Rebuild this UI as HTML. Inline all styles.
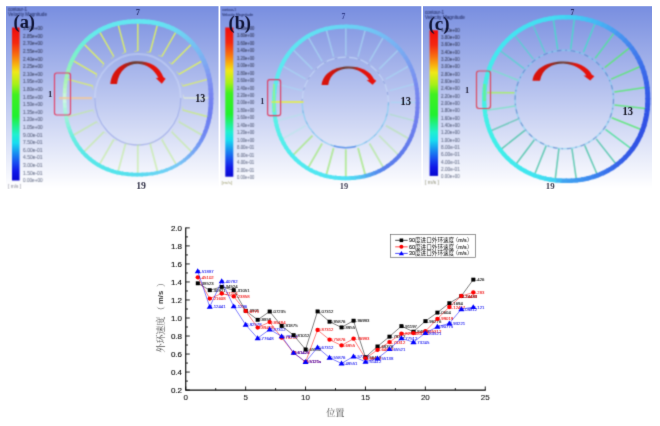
<!DOCTYPE html>
<html><head><meta charset="utf-8"><title>figure</title>
<style>
html,body{margin:0;padding:0;background:#fff;}
body{width:660px;height:426px;overflow:hidden;font-family:"Liberation Sans",sans-serif;}
svg{display:block}
text{font-family:"Liberation Sans",sans-serif}
.serif{font-family:"Liberation Serif",serif;font-weight:bold}
.cjk{font-family:"Liberation Sans","Noto Sans CJK SC",sans-serif}
.cjkserif{font-family:"Liberation Serif","Noto Serif CJK SC",serif}
</style></head><body>
<svg width="660" height="426" viewBox="0 0 660 426">
<defs>
<linearGradient id="bg" x1="0" y1="0" x2="0" y2="1">
<stop offset="0" stop-color="#788ee0"/><stop offset="0.985" stop-color="#ffffff"/><stop offset="1" stop-color="#ffffff"/>
</linearGradient>
<linearGradient id="cbar" x1="0" y1="0" x2="0" y2="1">
<stop offset="0" stop-color="#f00c0c"/><stop offset="0.10" stop-color="#f42810"/><stop offset="0.18" stop-color="#f87010"/><stop offset="0.24" stop-color="#f8b010"/><stop offset="0.29" stop-color="#f0e818"/><stop offset="0.37" stop-color="#a8f018"/><stop offset="0.44" stop-color="#40f020"/><stop offset="0.58" stop-color="#20f030"/><stop offset="0.65" stop-color="#20f090"/><stop offset="0.70" stop-color="#20f0d0"/><stop offset="0.755" stop-color="#18dcf0"/><stop offset="0.82" stop-color="#1890f0"/><stop offset="0.88" stop-color="#1850f0"/><stop offset="0.94" stop-color="#1018e8"/><stop offset="1" stop-color="#0808d0"/>
</linearGradient>
<linearGradient id="arr" x1="0" y1="0" x2="1" y2="0">
<stop offset="0" stop-color="#dc140c"/><stop offset="0.22" stop-color="#d0140c"/><stop offset="0.42" stop-color="#6a3a30"/><stop offset="0.56" stop-color="#7a3a30"/><stop offset="0.7" stop-color="#e0140c"/><stop offset="1" stop-color="#ea100a"/>
</linearGradient>
<filter id="b6" filterUnits="userSpaceOnUse" x="0" y="0" width="660" height="426" color-interpolation-filters="sRGB"><feConvolveMatrix order="3" kernelMatrix="0.0439 0.1217 0.0439 0.1217 0.3377 0.1217 0.0439 0.1217 0.0439" divisor="1" edgeMode="duplicate" preserveAlpha="false"/></filter>
<filter id="b3" filterUnits="userSpaceOnUse" x="0" y="0" width="660" height="426" color-interpolation-filters="sRGB"><feConvolveMatrix order="3" kernelMatrix="0.0113 0.0838 0.0113 0.0838 0.6193 0.0838 0.0113 0.0838 0.0113" divisor="1" edgeMode="duplicate" preserveAlpha="false"/></filter>
<clipPath id="ca"><rect x="6" y="6" width="212.5" height="183"/></clipPath>
<clipPath id="cb"><rect x="220.3" y="6" width="201" height="183"/></clipPath>
<clipPath id="cc"><rect x="423" y="6" width="229" height="183"/></clipPath>
</defs>

<g clip-path="url(#ca)"><g filter="url(#b6)">
<rect x="4" y="6" width="216.5" height="185" fill="url(#bg)"/>
<ellipse cx="137.8" cy="98" rx="43" ry="44" fill="none" stroke="#d4e0fa" stroke-width="1.8" opacity="0.4"/>
<path d="M94.80000000000001,98A43,47 0 0 0 180.8,98" fill="none" stroke="#8898e2" stroke-width="1.3" opacity="0.55"/>
<line x1="92.9" y1="86.0" x2="67.2" y2="79.1" stroke="#dcf068" stroke-width="1.4" opacity="0.8"/>
<line x1="96.8" y1="74.3" x2="73.0" y2="60.6" stroke="#dcf068" stroke-width="1.4" opacity="1"/>
<line x1="103.9" y1="64.1" x2="83.9" y2="44.1" stroke="#dcf068" stroke-width="1.4" opacity="1"/>
<line x1="113.8" y1="56.5" x2="99.5" y2="31.6" stroke="#dcf068" stroke-width="1.4" opacity="1"/>
<line x1="125.5" y1="52.2" x2="118.1" y2="24.4" stroke="#dcf068" stroke-width="1.4" opacity="1"/>
<line x1="137.8" y1="51.0" x2="137.8" y2="22.4" stroke="#dcf068" stroke-width="1.4" opacity="1"/>
<line x1="150.1" y1="52.2" x2="157.5" y2="24.4" stroke="#dcf068" stroke-width="1.4" opacity="1"/>
<line x1="161.8" y1="56.5" x2="176.1" y2="31.6" stroke="#dcf068" stroke-width="1.4" opacity="1"/>
<line x1="171.7" y1="64.1" x2="191.7" y2="44.1" stroke="#dcf068" stroke-width="1.4" opacity="1"/>
<line x1="178.8" y1="74.3" x2="202.6" y2="60.6" stroke="#dcf068" stroke-width="1.4" opacity="1"/>
<line x1="182.7" y1="86.0" x2="208.4" y2="79.1" stroke="#dcf068" stroke-width="1.4" opacity="0.8"/>
<line x1="183.8" y1="98.0" x2="210.0" y2="98.0" stroke="#e8f4d0" stroke-width="1.4" opacity="0.8"/>
<line x1="182.7" y1="110.0" x2="208.4" y2="116.9" stroke="#c8ec80" stroke-width="1.8" opacity="0.75"/>
<line x1="178.8" y1="121.7" x2="202.6" y2="135.4" stroke="#c0ec98" stroke-width="1.8" opacity="0.6"/>
<line x1="171.7" y1="131.9" x2="191.7" y2="151.9" stroke="#c0ec98" stroke-width="1.8" opacity="0.6"/>
<line x1="161.8" y1="139.5" x2="176.1" y2="164.4" stroke="#c0ec98" stroke-width="1.8" opacity="0.6"/>
<line x1="150.1" y1="143.8" x2="157.5" y2="171.6" stroke="#c0ec98" stroke-width="1.8" opacity="0.6"/>
<line x1="137.8" y1="145.0" x2="137.8" y2="173.6" stroke="#c0ec98" stroke-width="1.8" opacity="0.6"/>
<line x1="125.5" y1="143.8" x2="118.1" y2="171.6" stroke="#c0ec98" stroke-width="1.8" opacity="0.6"/>
<line x1="113.8" y1="139.5" x2="99.5" y2="164.4" stroke="#c0ec98" stroke-width="1.8" opacity="0.6"/>
<line x1="103.9" y1="131.9" x2="83.9" y2="151.9" stroke="#c0ec98" stroke-width="1.8" opacity="0.6"/>
<line x1="96.8" y1="121.7" x2="73.0" y2="135.4" stroke="#c0ec98" stroke-width="1.8" opacity="0.6"/>
<line x1="92.9" y1="110.0" x2="67.2" y2="116.9" stroke="#c0ec98" stroke-width="1.8" opacity="0.6"/>
<line x1="92.9" y1="86.0" x2="92.8" y2="89.4" stroke="#dcf068" stroke-width="1" opacity="0.48"/>
<line x1="96.8" y1="74.3" x2="95.8" y2="77.7" stroke="#dcf068" stroke-width="1" opacity="0.60"/>
<line x1="103.9" y1="64.1" x2="102.0" y2="67.1" stroke="#dcf068" stroke-width="1" opacity="0.60"/>
<line x1="113.8" y1="56.5" x2="111.1" y2="58.7" stroke="#dcf068" stroke-width="1" opacity="0.60"/>
<line x1="125.5" y1="52.2" x2="122.3" y2="53.5" stroke="#dcf068" stroke-width="1" opacity="0.60"/>
<line x1="137.8" y1="51.0" x2="134.4" y2="51.6" stroke="#dcf068" stroke-width="1" opacity="0.60"/>
<line x1="150.1" y1="52.2" x2="146.6" y2="52.1" stroke="#dcf068" stroke-width="1" opacity="0.60"/>
<line x1="161.8" y1="56.5" x2="158.4" y2="55.4" stroke="#dcf068" stroke-width="1" opacity="0.60"/>
<line x1="171.7" y1="64.1" x2="168.9" y2="62.0" stroke="#dcf068" stroke-width="1" opacity="0.60"/>
<line x1="178.8" y1="74.3" x2="176.8" y2="71.5" stroke="#dcf068" stroke-width="1" opacity="0.60"/>
<line x1="182.7" y1="86.0" x2="181.5" y2="82.8" stroke="#dcf068" stroke-width="1" opacity="0.48"/>
<line x1="183.8" y1="98.0" x2="183.2" y2="94.7" stroke="#e8f4d0" stroke-width="1" opacity="0.48"/>
<line x1="182.7" y1="110.0" x2="182.8" y2="106.6" stroke="#c8ec80" stroke-width="1" opacity="0.45"/>
<line x1="178.8" y1="121.7" x2="179.8" y2="118.3" stroke="#c0ec98" stroke-width="1" opacity="0.36"/>
<line x1="171.7" y1="131.9" x2="173.6" y2="128.9" stroke="#c0ec98" stroke-width="1" opacity="0.36"/>
<line x1="161.8" y1="139.5" x2="164.5" y2="137.3" stroke="#c0ec98" stroke-width="1" opacity="0.36"/>
<line x1="150.1" y1="143.8" x2="153.3" y2="142.5" stroke="#c0ec98" stroke-width="1" opacity="0.36"/>
<line x1="137.8" y1="145.0" x2="141.2" y2="144.4" stroke="#c0ec98" stroke-width="1" opacity="0.36"/>
<line x1="125.5" y1="143.8" x2="129.0" y2="143.9" stroke="#c0ec98" stroke-width="1" opacity="0.36"/>
<line x1="113.8" y1="139.5" x2="117.2" y2="140.6" stroke="#c0ec98" stroke-width="1" opacity="0.36"/>
<line x1="103.9" y1="131.9" x2="106.7" y2="134.0" stroke="#c0ec98" stroke-width="1" opacity="0.36"/>
<line x1="96.8" y1="121.7" x2="98.8" y2="124.5" stroke="#c0ec98" stroke-width="1" opacity="0.36"/>
<line x1="92.9" y1="110.0" x2="94.1" y2="113.2" stroke="#c0ec98" stroke-width="1" opacity="0.36"/>
<path d="M64.60,98.00L64.61,96.02L64.65,94.04L64.72,92.06" stroke="#c9f5da" stroke-width="3.63" fill="none"/>
<path d="M64.67,93.21L64.76,91.22L64.88,89.24L65.04,87.26" stroke="#bdf4ca" stroke-width="3.68" fill="none"/>
<path d="M64.95,88.41L65.12,86.42L65.34,84.44L65.60,82.46" stroke="#b3f3bf" stroke-width="3.73" fill="none"/>
<path d="M65.45,83.61L65.73,81.63L66.05,79.65L66.43,77.67" stroke="#abf2b7" stroke-width="3.78" fill="none"/>
<path d="M66.20,78.82L66.60,76.84L67.04,74.87L67.53,72.91" stroke="#a2f2b6" stroke-width="3.83" fill="none"/>
<path d="M67.24,74.05L67.75,72.09L68.31,70.14L68.92,68.19" stroke="#99f2ba" stroke-width="3.88" fill="none"/>
<path d="M68.56,69.32L69.20,67.38L69.89,65.46L70.63,63.55" stroke="#90f2be" stroke-width="3.93" fill="none"/>
<path d="M70.19,64.66L70.96,62.76L71.78,60.88L72.66,59.01" stroke="#87f2c2" stroke-width="3.98" fill="none"/>
<path d="M72.14,60.09L73.04,58.24L74.00,56.41L75.01,54.60" stroke="#80f1c8" stroke-width="4.03" fill="none"/>
<path d="M74.42,55.65L75.45,53.86L76.54,52.09L77.69,50.36" stroke="#7af0ce" stroke-width="4.08" fill="none"/>
<path d="M77.02,51.36L78.19,49.64L79.42,47.96L80.69,46.31" stroke="#74efd4" stroke-width="4.13" fill="none"/>
<path d="M79.95,47.26L81.25,45.63L82.60,44.04L84.01,42.49" stroke="#6eeeda" stroke-width="4.18" fill="none"/>
<path d="M83.19,43.39L84.62,41.86L86.10,40.38L87.62,38.94" stroke="#6beddf" stroke-width="4.22" fill="none"/>
<path d="M86.73,39.77L88.28,38.35L89.88,36.99L91.52,35.68" stroke="#69ece3" stroke-width="4.25" fill="none"/>
<path d="M90.56,36.43L92.22,35.14L93.92,33.91L95.66,32.73" stroke="#67eae8" stroke-width="4.29" fill="none"/>
<path d="M94.64,33.41L96.40,32.25L98.19,31.16L100.02,30.12" stroke="#65e9ec" stroke-width="4.32" fill="none"/>
<path d="M98.95,30.71L100.79,29.70L102.67,28.75L104.57,27.85" stroke="#64e8ee" stroke-width="4.35" fill="none"/>
<path d="M103.46,28.36L105.37,27.50L107.31,26.69L109.27,25.94" stroke="#64e7ef" stroke-width="4.39" fill="none"/>
<path d="M108.13,26.37L110.10,25.65L112.09,24.99L114.09,24.38" stroke="#64e7ef" stroke-width="4.42" fill="none"/>
<path d="M112.93,24.73L114.94,24.15L116.97,23.63L119.00,23.17" stroke="#64e7ef" stroke-width="4.45" fill="none"/>
<path d="M117.82,23.43L119.86,23.00L121.91,22.62L123.97,22.30" stroke="#64e6f0" stroke-width="4.49" fill="none"/>
<path d="M122.78,22.48L124.84,22.18L126.91,21.93L128.98,21.73" stroke="#64e6f0" stroke-width="4.52" fill="none"/>
<path d="M127.77,21.84L129.84,21.66L131.92,21.54L133.99,21.45" stroke="#64e6f0" stroke-width="4.55" fill="none"/>
<path d="M132.79,21.50L134.86,21.43L136.93,21.40L139.00,21.40" stroke="#64e5f1" stroke-width="4.59" fill="none"/>
<path d="M137.80,21.40L139.87,21.41L141.95,21.46L144.02,21.55" stroke="#64e5f1" stroke-width="4.6" fill="none"/>
<path d="M142.81,21.50L144.89,21.60L146.96,21.76L149.03,21.97" stroke="#64e5f1" stroke-width="4.6" fill="none"/>
<path d="M147.83,21.84L149.89,22.07L151.96,22.34L154.02,22.68" stroke="#64e4f2" stroke-width="4.6" fill="none"/>
<path d="M152.82,22.48L154.88,22.83L156.92,23.24L158.96,23.71" stroke="#64e4f2" stroke-width="4.6" fill="none"/>
<path d="M157.78,23.43L159.81,23.93L161.83,24.48L163.83,25.09" stroke="#65e2f2" stroke-width="4.6" fill="none"/>
<path d="M162.67,24.73L164.67,25.36L166.65,26.06L168.60,26.81" stroke="#67dff2" stroke-width="4.6" fill="none"/>
<path d="M167.47,26.37L169.42,27.15L171.34,27.99L173.24,28.90" stroke="#69dcf2" stroke-width="4.6" fill="none"/>
<path d="M172.14,28.36L174.03,29.29L175.88,30.28L177.70,31.33" stroke="#6bd9f2" stroke-width="4.6" fill="none"/>
<path d="M176.65,30.71L178.46,31.79L180.23,32.92L181.96,34.10" stroke="#6dd5f2" stroke-width="4.6" fill="none"/>
<path d="M180.96,33.41L182.68,34.62L184.35,35.89L185.99,37.21" stroke="#6fd0f2" stroke-width="4.6" fill="none"/>
<path d="M185.04,36.43L186.66,37.77L188.22,39.17L189.75,40.61" stroke="#71cbf2" stroke-width="4.6" fill="none"/>
<path d="M188.87,39.77L190.37,41.23L191.82,42.74L193.22,44.30" stroke="#73c6f2" stroke-width="4.6" fill="none"/>
<path d="M192.41,43.39L193.79,44.96L195.12,46.57L196.39,48.23" stroke="#75c1f2" stroke-width="4.61" fill="none"/>
<path d="M195.65,47.26L196.90,48.93L198.10,50.64L199.24,52.37" stroke="#77bbf2" stroke-width="4.63" fill="none"/>
<path d="M198.58,51.36L199.70,53.11L200.76,54.89L201.76,56.70" stroke="#79b6f2" stroke-width="4.64" fill="none"/>
<path d="M201.18,55.65L202.16,57.47L203.09,59.31L203.96,61.18" stroke="#7bb0f2" stroke-width="4.66" fill="none"/>
<path d="M203.46,60.09L204.30,61.97L205.09,63.86L205.83,65.77" stroke="#7daaf2" stroke-width="4.68" fill="none"/>
<path d="M205.41,64.66L206.12,66.58L206.78,68.51L207.39,70.45" stroke="#7ea3f2" stroke-width="4.69" fill="none"/>
<path d="M207.04,69.32L207.62,71.27L208.16,73.22L208.64,75.19" stroke="#7f9df2" stroke-width="4.71" fill="none"/>
<path d="M208.36,74.05L208.83,76.01L209.24,77.99L209.60,79.96" stroke="#8096f2" stroke-width="4.73" fill="none"/>
<path d="M209.40,78.82L209.74,80.79L210.04,82.78L210.30,84.76" stroke="#7e91f2" stroke-width="4.74" fill="none"/>
<path d="M210.15,83.61L210.39,85.59L210.59,87.58L210.74,89.56" stroke="#7c8df1" stroke-width="4.76" fill="none"/>
<path d="M210.65,88.41L210.79,90.39L210.89,92.38L210.96,94.36" stroke="#7988f1" stroke-width="4.78" fill="none"/>
<path d="M210.93,93.21L210.98,95.19L211.00,97.17L211.00,99.15" stroke="#7784f0" stroke-width="4.79" fill="none"/>
<path d="M211.00,98.00L210.99,99.98L210.95,101.96L210.88,103.94" stroke="#7481f0" stroke-width="4.74" fill="none"/>
<path d="M210.93,102.79L210.84,104.78L210.72,106.76L210.56,108.74" stroke="#7280f0" stroke-width="4.64" fill="none"/>
<path d="M210.65,107.59L210.48,109.58L210.26,111.56L210.00,113.54" stroke="#6f7ef0" stroke-width="4.54" fill="none"/>
<path d="M210.15,112.39L209.87,114.37L209.55,116.35L209.17,118.33" stroke="#6d7df0" stroke-width="4.44" fill="none"/>
<path d="M209.40,117.18L209.00,119.16L208.56,121.13L208.07,123.09" stroke="#6d7ef0" stroke-width="4.34" fill="none"/>
<path d="M208.36,121.95L207.85,123.91L207.29,125.86L206.68,127.81" stroke="#6e81f1" stroke-width="4.24" fill="none"/>
<path d="M207.04,126.68L206.40,128.62L205.71,130.54L204.97,132.45" stroke="#6f84f1" stroke-width="4.14" fill="none"/>
<path d="M205.41,131.34L204.64,133.24L203.82,135.12L202.94,136.99" stroke="#7087f2" stroke-width="4.04" fill="none"/>
<path d="M203.46,135.91L202.56,137.76L201.60,139.59L200.59,141.40" stroke="#718df2" stroke-width="3.94" fill="none"/>
<path d="M201.18,140.35L200.15,142.14L199.06,143.91L197.91,145.64" stroke="#7395f3" stroke-width="3.84" fill="none"/>
<path d="M198.58,144.64L197.41,146.36L196.18,148.04L194.91,149.69" stroke="#759df3" stroke-width="3.74" fill="none"/>
<path d="M195.65,148.74L194.35,150.37L193.00,151.96L191.59,153.51" stroke="#77a5f4" stroke-width="3.64" fill="none"/>
<path d="M192.41,152.61L190.98,154.14L189.50,155.62L187.98,157.06" stroke="#78adf4" stroke-width="3.54" fill="none"/>
<path d="M188.87,156.23L187.32,157.65L185.72,159.01L184.08,160.32" stroke="#78b5f5" stroke-width="3.44" fill="none"/>
<path d="M185.04,159.57L183.38,160.86L181.68,162.09L179.94,163.27" stroke="#78bdf5" stroke-width="3.34" fill="none"/>
<path d="M180.96,162.59L179.20,163.75L177.41,164.84L175.58,165.88" stroke="#78c5f6" stroke-width="3.24" fill="none"/>
<path d="M176.65,165.29L174.81,166.30L172.93,167.25L171.03,168.15" stroke="#76caf6" stroke-width="3.25" fill="none"/>
<path d="M172.14,167.64L170.23,168.50L168.29,169.31L166.33,170.06" stroke="#72cdf5" stroke-width="3.32" fill="none"/>
<path d="M167.47,169.63L165.50,170.35L163.51,171.01L161.51,171.62" stroke="#6ed0f5" stroke-width="3.4" fill="none"/>
<path d="M162.67,171.27L160.66,171.85L158.63,172.37L156.60,172.83" stroke="#6ad3f4" stroke-width="3.47" fill="none"/>
<path d="M157.78,172.57L155.74,173.00L153.69,173.38L151.63,173.70" stroke="#66d5f3" stroke-width="3.55" fill="none"/>
<path d="M152.82,173.52L150.76,173.82L148.69,174.07L146.62,174.27" stroke="#62d7f2" stroke-width="3.62" fill="none"/>
<path d="M147.83,174.16L145.76,174.34L143.68,174.46L141.61,174.55" stroke="#5ed9f1" stroke-width="3.7" fill="none"/>
<path d="M142.81,174.50L140.74,174.57L138.67,174.60L136.60,174.60" stroke="#5adbf0" stroke-width="3.77" fill="none"/>
<path d="M137.80,174.60L135.73,174.59L133.65,174.54L131.58,174.45" stroke="#57ddef" stroke-width="3.81" fill="none"/>
<path d="M132.79,174.50L130.71,174.40L128.64,174.24L126.57,174.03" stroke="#56dfee" stroke-width="3.83" fill="none"/>
<path d="M127.77,174.16L125.71,173.93L123.64,173.66L121.58,173.32" stroke="#55e1ed" stroke-width="3.84" fill="none"/>
<path d="M122.78,173.52L120.72,173.17L118.68,172.76L116.64,172.29" stroke="#54e3ec" stroke-width="3.86" fill="none"/>
<path d="M117.82,172.57L115.79,172.07L113.77,171.52L111.77,170.91" stroke="#54e4ec" stroke-width="3.88" fill="none"/>
<path d="M112.93,171.27L110.93,170.64L108.95,169.94L107.00,169.19" stroke="#55e5eb" stroke-width="3.89" fill="none"/>
<path d="M108.13,169.63L106.18,168.85L104.26,168.01L102.36,167.10" stroke="#55e5eb" stroke-width="3.91" fill="none"/>
<path d="M103.46,167.64L101.57,166.71L99.72,165.72L97.90,164.67" stroke="#56e6ea" stroke-width="3.93" fill="none"/>
<path d="M98.95,165.29L97.14,164.21L95.37,163.08L93.64,161.90" stroke="#56e6ea" stroke-width="3.94" fill="none"/>
<path d="M94.64,162.59L92.92,161.38L91.25,160.11L89.61,158.79" stroke="#57e7e9" stroke-width="3.96" fill="none"/>
<path d="M90.56,159.57L88.94,158.23L87.38,156.83L85.85,155.39" stroke="#57e7e9" stroke-width="3.98" fill="none"/>
<path d="M86.73,156.23L85.23,154.77L83.78,153.26L82.38,151.70" stroke="#58e8e8" stroke-width="3.99" fill="none"/>
<path d="M83.19,152.61L81.81,151.04L80.48,149.43L79.21,147.77" stroke="#5be9e7" stroke-width="3.98" fill="none"/>
<path d="M79.95,148.74L78.70,147.07L77.50,145.36L76.36,143.63" stroke="#60eae5" stroke-width="3.95" fill="none"/>
<path d="M77.02,144.64L75.90,142.89L74.84,141.11L73.84,139.30" stroke="#65ece3" stroke-width="3.91" fill="none"/>
<path d="M74.42,140.35L73.44,138.53L72.51,136.69L71.64,134.82" stroke="#6aede1" stroke-width="3.88" fill="none"/>
<path d="M72.14,135.91L71.30,134.03L70.51,132.14L69.77,130.23" stroke="#73efdf" stroke-width="3.85" fill="none"/>
<path d="M70.19,131.34L69.48,129.42L68.82,127.49L68.21,125.55" stroke="#7ff0dd" stroke-width="3.81" fill="none"/>
<path d="M68.56,126.68L67.98,124.73L67.44,122.78L66.96,120.81" stroke="#8bf1db" stroke-width="3.78" fill="none"/>
<path d="M67.24,121.95L66.77,119.99L66.36,118.01L66.00,116.04" stroke="#97f2d9" stroke-width="3.75" fill="none"/>
<path d="M66.20,117.18L65.86,115.21L65.56,113.22L65.30,111.24" stroke="#a3f3da" stroke-width="3.71" fill="none"/>
<path d="M65.45,112.39L65.21,110.41L65.01,108.42L64.86,106.44" stroke="#aff4dd" stroke-width="3.68" fill="none"/>
<path d="M64.95,107.59L64.81,105.61L64.71,103.62L64.64,101.64" stroke="#bdf5e0" stroke-width="3.65" fill="none"/>
<path d="M64.67,102.79L64.62,100.81L64.60,98.83L64.60,96.85" stroke="#cbf6e3" stroke-width="3.61" fill="none"/>
<line x1="59" y1="98.2" x2="92" y2="98.2" stroke="#f4c898" stroke-width="2.2" opacity="0.75"/>
<rect x="54.5" y="73" width="16" height="42" rx="2.2" fill="none" stroke="#e23c62" stroke-width="1.15"/>
<path d="M110.3,84.0 C111.8,69.0 123.8,61.3 137.8,61.3 C149.8,61.3 159.8,67.0 163.3,77.0 L165.6,78.8 L161.8,83.7 L155.8,78.0 L158.3,77.8 C154.8,70.0 146.8,64.2 137.8,63.7 C127.8,63.7 118.8,70.0 117.0,84.0 Z" fill="url(#arr)"/>
<rect x="12" y="27.5" width="7.6" height="153" fill="url(#cbar)"/>
<text x="23" y="30.07" font-size="5.2" fill="#3e466e" stroke="#3e466e" stroke-width="0.16" textLength="19.6" lengthAdjust="spacingAndGlyphs">3.00e+00</text>
<text x="23" y="37.68" font-size="5.2" fill="#414970" stroke="#414970" stroke-width="0.15" textLength="19.6" lengthAdjust="spacingAndGlyphs">2.85e+00</text>
<text x="23" y="45.29" font-size="5.2" fill="#434b72" stroke="#434b72" stroke-width="0.15" textLength="19.6" lengthAdjust="spacingAndGlyphs">2.70e+00</text>
<text x="23" y="52.90" font-size="5.2" fill="#464e73" stroke="#464e73" stroke-width="0.14" textLength="19.6" lengthAdjust="spacingAndGlyphs">2.55e+00</text>
<text x="23" y="60.51" font-size="5.2" fill="#485075" stroke="#485075" stroke-width="0.14" textLength="19.6" lengthAdjust="spacingAndGlyphs">2.40e+00</text>
<text x="23" y="68.12" font-size="5.2" fill="#4b5377" stroke="#4b5377" stroke-width="0.14" textLength="19.6" lengthAdjust="spacingAndGlyphs">2.25e+00</text>
<text x="23" y="75.73" font-size="5.2" fill="#4e5679" stroke="#4e5679" stroke-width="0.13" textLength="19.6" lengthAdjust="spacingAndGlyphs">2.10e+00</text>
<text x="23" y="83.34" font-size="5.2" fill="#50587b" stroke="#50587b" stroke-width="0.12" textLength="19.6" lengthAdjust="spacingAndGlyphs">1.95e+00</text>
<text x="23" y="90.95" font-size="5.2" fill="#535b7c" stroke="#535b7c" stroke-width="0.12" textLength="19.6" lengthAdjust="spacingAndGlyphs">1.80e+00</text>
<text x="23" y="98.56" font-size="5.2" fill="#555d7e" stroke="#555d7e" stroke-width="0.12" textLength="19.6" lengthAdjust="spacingAndGlyphs">1.65e+00</text>
<text x="23" y="106.17" font-size="5.2" fill="#586080" stroke="#586080" stroke-width="0.11" textLength="19.6" lengthAdjust="spacingAndGlyphs">1.50e+00</text>
<text x="23" y="113.78" font-size="5.2" fill="#5b6382" stroke="#5b6382" stroke-width="0.10" textLength="19.6" lengthAdjust="spacingAndGlyphs">1.35e+00</text>
<text x="23" y="121.39" font-size="5.2" fill="#5d6584" stroke="#5d6584" stroke-width="0.10" textLength="19.6" lengthAdjust="spacingAndGlyphs">1.20e+00</text>
<text x="23" y="129.00" font-size="5.2" fill="#606885" stroke="#606885" stroke-width="0.10" textLength="19.6" lengthAdjust="spacingAndGlyphs">1.05e+00</text>
<text x="23" y="136.61" font-size="5.2" fill="#626a87" stroke="#626a87" stroke-width="0.09" textLength="19.6" lengthAdjust="spacingAndGlyphs">9.00e-01</text>
<text x="23" y="144.22" font-size="5.2" fill="#656d89" stroke="#656d89" stroke-width="0.09" textLength="19.6" lengthAdjust="spacingAndGlyphs">7.50e-01</text>
<text x="23" y="151.83" font-size="5.2" fill="#68708b" stroke="#68708b" stroke-width="0.08" textLength="19.6" lengthAdjust="spacingAndGlyphs">6.00e-01</text>
<text x="23" y="159.44" font-size="5.2" fill="#6a728d" stroke="#6a728d" stroke-width="0.07" textLength="19.6" lengthAdjust="spacingAndGlyphs">4.50e-01</text>
<text x="23" y="167.05" font-size="5.2" fill="#6d758e" stroke="#6d758e" stroke-width="0.07" textLength="19.6" lengthAdjust="spacingAndGlyphs">3.00e-01</text>
<text x="23" y="174.66" font-size="5.2" fill="#6f7790" stroke="#6f7790" stroke-width="0.07" textLength="19.6" lengthAdjust="spacingAndGlyphs">1.50e-01</text>
<text x="23" y="182.27" font-size="5.2" fill="#727a92" stroke="#727a92" stroke-width="0.06" textLength="19.6" lengthAdjust="spacingAndGlyphs">0.00e+00</text>
<text x="8" y="11" font-size="4.6" fill="#34407c" stroke="#34407c" stroke-width="0.12" textLength="19" lengthAdjust="spacingAndGlyphs">contour-1</text>
<text x="8" y="16.2" font-size="4.6" fill="#34407c" stroke="#34407c" stroke-width="0.12" textLength="39" lengthAdjust="spacingAndGlyphs">Velocity Magnitude</text>
<text x="8" y="188" font-size="4.8" fill="#808090" textLength="13" lengthAdjust="spacingAndGlyphs">[ m/s ]</text>
</g>
<g filter="url(#b3)">
<text class="serif" x="13.5" y="28.3" font-size="18.5" fill="#0c1030" textLength="21.5" lengthAdjust="spacingAndGlyphs">(a)</text>
<text class="serif" x="48.0" y="97.2" font-size="8.8" fill="#26263e">1</text>
<text class="serif" x="135.8" y="14.8" font-size="8.5" fill="#222c68">7</text>
<text class="serif" x="195.3" y="102.3" font-size="12" fill="#10101c" textLength="10" lengthAdjust="spacingAndGlyphs">13</text>
<text class="serif" x="136.2" y="188.9" font-size="10.2" fill="#34344a" textLength="9.8" lengthAdjust="spacingAndGlyphs">19</text>
</g></g>
<g clip-path="url(#cb)"><g filter="url(#b6)">
<rect x="218.3" y="6" width="205" height="185" fill="url(#bg)"/>
<ellipse cx="345.3" cy="102.4" rx="43.2" ry="45.2" fill="none" stroke="#c8dcf8" stroke-width="1.2" opacity="0.7"/>
<ellipse cx="345.3" cy="102.4" rx="43.2" ry="45.2" fill="none" stroke="#6478c8" stroke-width="1" stroke-dasharray="3 8.6" opacity="0.55"/>
<path d="M302.1,102.4A43.2,45.2 0 0 0 388.5,102.4" fill="none" stroke="#78ccf0" stroke-width="1.4" opacity="0.6"/>
<path d="M333.8,146.0A43.2,45.2 0 0 0 355.8,146.4" fill="none" stroke="#5484e8" stroke-width="1.6" opacity="0.8"/>
<line x1="301.9" y1="90.6" x2="276.7" y2="83.9" stroke="#a8d8f4" stroke-width="1.5" opacity="0.7"/>
<line x1="305.7" y1="79.2" x2="282.5" y2="65.9" stroke="#a8d8f4" stroke-width="1.5" opacity="0.7"/>
<line x1="312.5" y1="69.1" x2="293.1" y2="49.7" stroke="#a8d8f4" stroke-width="1.5" opacity="0.7"/>
<line x1="322.1" y1="61.3" x2="308.2" y2="37.2" stroke="#a8d8f4" stroke-width="1.5" opacity="0.7"/>
<line x1="333.6" y1="56.8" x2="326.3" y2="29.8" stroke="#a8d8f4" stroke-width="1.5" opacity="0.7"/>
<line x1="345.8" y1="55.4" x2="345.8" y2="27.6" stroke="#a8d8f4" stroke-width="1.5" opacity="0.7"/>
<line x1="358.0" y1="56.8" x2="365.3" y2="29.8" stroke="#a8d8f4" stroke-width="1.5" opacity="0.7"/>
<line x1="369.5" y1="61.3" x2="383.4" y2="37.2" stroke="#a8d8f4" stroke-width="1.5" opacity="0.7"/>
<line x1="379.1" y1="69.1" x2="398.5" y2="49.7" stroke="#a8d8f4" stroke-width="1.5" opacity="0.7"/>
<line x1="385.9" y1="79.2" x2="409.1" y2="65.9" stroke="#a8d8f4" stroke-width="1.5" opacity="0.7"/>
<line x1="389.7" y1="90.6" x2="414.9" y2="83.9" stroke="#a8d8f4" stroke-width="1.5" opacity="0.7"/>
<line x1="390.8" y1="102.4" x2="416.6" y2="102.4" stroke="#a8d8f4" stroke-width="1.5" opacity="0.7"/>
<line x1="389.7" y1="114.2" x2="414.9" y2="120.9" stroke="#98e8a8" stroke-width="1.5" opacity="0.4"/>
<line x1="385.9" y1="125.6" x2="409.1" y2="138.9" stroke="#a8e888" stroke-width="1.9" opacity="0.4"/>
<line x1="379.1" y1="135.7" x2="398.5" y2="155.1" stroke="#a8e888" stroke-width="1.9" opacity="0.4"/>
<line x1="369.5" y1="143.5" x2="383.4" y2="167.6" stroke="#a8e888" stroke-width="1.9" opacity="0.6"/>
<line x1="358.0" y1="148.0" x2="365.3" y2="175.0" stroke="#a8e888" stroke-width="1.9" opacity="0.8"/>
<line x1="345.8" y1="149.4" x2="345.8" y2="177.2" stroke="#a8e888" stroke-width="1.9" opacity="0.8"/>
<line x1="333.6" y1="148.0" x2="326.3" y2="175.0" stroke="#a8e888" stroke-width="1.9" opacity="0.8"/>
<line x1="322.1" y1="143.5" x2="308.2" y2="167.6" stroke="#a8e888" stroke-width="1.9" opacity="0.8"/>
<line x1="312.5" y1="135.7" x2="293.1" y2="155.1" stroke="#a8e888" stroke-width="1.9" opacity="0.8"/>
<line x1="305.7" y1="125.6" x2="282.5" y2="138.9" stroke="#a0f0e0" stroke-width="1.9" opacity="0.3"/>
<line x1="301.9" y1="114.2" x2="276.7" y2="120.9" stroke="#a0f0e0" stroke-width="1.9" opacity="0.3"/>
<path d="M274.00,102.40L274.01,100.46L274.06,98.51L274.13,96.57" stroke="#66efde" stroke-width="4.0" fill="none"/>
<path d="M274.08,97.70L274.18,95.76L274.31,93.81L274.48,91.87" stroke="#63eee2" stroke-width="4.0" fill="none"/>
<path d="M274.38,93.00L274.57,91.05L274.80,89.11L275.07,87.17" stroke="#60ede6" stroke-width="4.0" fill="none"/>
<path d="M274.90,88.30L275.20,86.36L275.53,84.42L275.91,82.49" stroke="#5decea" stroke-width="4.0" fill="none"/>
<path d="M275.69,83.61L276.09,81.68L276.54,79.76L277.03,77.85" stroke="#5cebed" stroke-width="4.0" fill="none"/>
<path d="M276.74,78.96L277.26,77.04L277.82,75.14L278.44,73.25" stroke="#5ceaee" stroke-width="4.0" fill="none"/>
<path d="M278.07,74.35L278.71,72.46L279.40,70.59L280.14,68.73" stroke="#5ce9ef" stroke-width="4.0" fill="none"/>
<path d="M279.70,69.80L280.46,67.95L281.27,66.12L282.14,64.30" stroke="#5ce8f0" stroke-width="4.0" fill="none"/>
<path d="M281.63,65.35L282.52,63.54L283.45,61.76L284.45,60.00" stroke="#5ce8f0" stroke-width="4.0" fill="none"/>
<path d="M283.86,61.02L284.88,59.26L285.94,57.54L287.06,55.85" stroke="#5de7f0" stroke-width="4.0" fill="none"/>
<path d="M286.41,56.83L287.55,55.14L288.74,53.49L289.98,51.88" stroke="#5de6f1" stroke-width="4.0" fill="none"/>
<path d="M289.25,52.81L290.52,51.21L291.83,49.64L293.20,48.12" stroke="#5ee5f1" stroke-width="4.0" fill="none"/>
<path d="M292.40,49.00L293.79,47.49L295.22,46.03L296.70,44.60" stroke="#5ee5f1" stroke-width="4.0" fill="none"/>
<path d="M295.83,45.42L297.33,44.02L298.88,42.66L300.46,41.35" stroke="#5fe4f1" stroke-width="4.0" fill="none"/>
<path d="M299.54,42.11L301.14,40.82L302.79,39.58L304.47,38.40" stroke="#5fe3f2" stroke-width="4.0" fill="none"/>
<path d="M303.49,39.08L305.19,37.92L306.93,36.81L308.71,35.75" stroke="#60e2f2" stroke-width="4.0" fill="none"/>
<path d="M307.67,36.36L309.46,35.33L311.28,34.36L313.13,33.44" stroke="#61e1f2" stroke-width="4.0" fill="none"/>
<path d="M312.05,33.96L313.91,33.07L315.80,32.24L317.71,31.46" stroke="#62dff2" stroke-width="4.0" fill="none"/>
<path d="M316.60,31.91L318.52,31.16L320.47,30.47L322.43,29.83" stroke="#63ddf3" stroke-width="4.0" fill="none"/>
<path d="M321.29,30.19L323.26,29.59L325.25,29.04L327.25,28.55" stroke="#64dcf3" stroke-width="4.0" fill="none"/>
<path d="M326.09,28.83L328.09,28.36L330.11,27.95L332.14,27.60" stroke="#65daf3" stroke-width="4.0" fill="none"/>
<path d="M330.96,27.80L332.99,27.47L335.03,27.20L337.07,26.98" stroke="#66d8f3" stroke-width="4.0" fill="none"/>
<path d="M335.89,27.10L337.93,26.90L339.98,26.76L342.03,26.66" stroke="#67d6f4" stroke-width="4.0" fill="none"/>
<path d="M340.84,26.71L342.89,26.64L344.94,26.60L346.99,26.61" stroke="#68d5f4" stroke-width="4.0" fill="none"/>
<path d="M345.80,26.60L347.85,26.62L349.90,26.67L351.95,26.78" stroke="#69d2f4" stroke-width="4.0" fill="none"/>
<path d="M350.76,26.71L352.81,26.84L354.86,27.01L356.90,27.24" stroke="#6ad0f4" stroke-width="4.0" fill="none"/>
<path d="M355.71,27.10L357.75,27.35L359.79,27.66L361.81,28.02" stroke="#6ccdf4" stroke-width="4.0" fill="none"/>
<path d="M360.64,27.80L362.66,28.18L364.67,28.62L366.67,29.12" stroke="#6dcbf4" stroke-width="4.0" fill="none"/>
<path d="M365.51,28.83L367.51,29.35L369.49,29.93L371.45,30.57" stroke="#6fc8f4" stroke-width="4.0" fill="none"/>
<path d="M370.31,30.19L372.26,30.86L374.20,31.59L376.10,32.37" stroke="#70c4f4" stroke-width="4.0" fill="none"/>
<path d="M375.00,31.91L376.90,32.72L378.77,33.58L380.62,34.51" stroke="#72c1f4" stroke-width="4.0" fill="none"/>
<path d="M379.55,33.96L381.38,34.91L383.18,35.92L384.95,36.98" stroke="#73bdf4" stroke-width="4.0" fill="none"/>
<path d="M383.93,36.36L385.68,37.45L387.40,38.59L389.08,39.78" stroke="#75baf4" stroke-width="4.0" fill="none"/>
<path d="M388.11,39.08L389.77,40.30L391.40,41.56L392.98,42.88" stroke="#76b6f3" stroke-width="4.0" fill="none"/>
<path d="M392.06,42.11L393.63,43.45L395.14,44.83L396.62,46.26" stroke="#77b3f3" stroke-width="4.0" fill="none"/>
<path d="M395.77,45.42L397.22,46.87L398.63,48.36L399.98,49.89" stroke="#78aff2" stroke-width="4.0" fill="none"/>
<path d="M399.20,49.00L400.54,50.55L401.82,52.13L403.06,53.76" stroke="#78abf2" stroke-width="4.0" fill="none"/>
<path d="M402.35,52.81L403.56,54.45L404.72,56.12L405.83,57.82" stroke="#79a7f1" stroke-width="4.0" fill="none"/>
<path d="M405.19,56.83L406.28,58.54L407.32,60.28L408.30,62.04" stroke="#79a2f1" stroke-width="4.0" fill="none"/>
<path d="M407.74,61.02L408.70,62.79L409.61,64.59L410.46,66.41" stroke="#7a9ef0" stroke-width="4.0" fill="none"/>
<path d="M409.97,65.35L410.80,67.18L411.59,69.02L412.32,70.89" stroke="#7a9af0" stroke-width="4.0" fill="none"/>
<path d="M411.90,69.80L412.61,71.67L413.27,73.55L413.87,75.45" stroke="#7996f0" stroke-width="4.0" fill="none"/>
<path d="M413.53,74.35L414.11,76.25L414.65,78.15L415.14,80.07" stroke="#7992f0" stroke-width="4.0" fill="none"/>
<path d="M414.86,78.96L415.33,80.88L415.75,82.80L416.12,84.74" stroke="#788ef0" stroke-width="4.0" fill="none"/>
<path d="M415.91,83.61L416.27,85.55L416.58,87.48L416.84,89.42" stroke="#778af0" stroke-width="4.0" fill="none"/>
<path d="M416.70,88.30L416.94,90.24L417.15,92.18L417.31,94.13" stroke="#7688ef" stroke-width="4.0" fill="none"/>
<path d="M417.22,93.00L417.37,94.94L417.48,96.88L417.55,98.83" stroke="#7585ef" stroke-width="4.0" fill="none"/>
<path d="M417.52,97.70L417.57,99.64L417.60,101.59L417.60,103.53" stroke="#7483ee" stroke-width="4.0" fill="none"/>
<path d="M417.60,102.40L417.59,104.34L417.54,106.29L417.47,108.23" stroke="#7381ee" stroke-width="4.0" fill="none"/>
<path d="M417.52,107.10L417.42,109.04L417.29,110.99L417.12,112.93" stroke="#7280ee" stroke-width="4.0" fill="none"/>
<path d="M417.22,111.80L417.03,113.75L416.80,115.69L416.53,117.63" stroke="#707fee" stroke-width="4.0" fill="none"/>
<path d="M416.70,116.50L416.40,118.44L416.07,120.38L415.69,122.31" stroke="#6f7eee" stroke-width="4.0" fill="none"/>
<path d="M415.91,121.19L415.51,123.12L415.06,125.04L414.57,126.95" stroke="#6d7eee" stroke-width="4.0" fill="none"/>
<path d="M414.86,125.84L414.34,127.76L413.78,129.66L413.16,131.55" stroke="#6b7ded" stroke-width="4.0" fill="none"/>
<path d="M413.53,130.45L412.89,132.34L412.20,134.21L411.46,136.07" stroke="#697ded" stroke-width="4.0" fill="none"/>
<path d="M411.90,135.00L411.14,136.85L410.33,138.68L409.46,140.50" stroke="#677cec" stroke-width="4.0" fill="none"/>
<path d="M409.97,139.45L409.08,141.26L408.15,143.04L407.15,144.80" stroke="#657cec" stroke-width="4.0" fill="none"/>
<path d="M407.74,143.78L406.72,145.54L405.66,147.26L404.54,148.95" stroke="#637bec" stroke-width="4.0" fill="none"/>
<path d="M405.19,147.97L404.05,149.66L402.86,151.31L401.62,152.92" stroke="#617bec" stroke-width="4.0" fill="none"/>
<path d="M402.35,151.99L401.08,153.59L399.77,155.16L398.40,156.68" stroke="#5f7aec" stroke-width="4.0" fill="none"/>
<path d="M399.20,155.80L397.81,157.31L396.38,158.77L394.90,160.20" stroke="#5d7bec" stroke-width="4.0" fill="none"/>
<path d="M395.77,159.38L394.27,160.78L392.72,162.14L391.14,163.45" stroke="#5c7cec" stroke-width="4.0" fill="none"/>
<path d="M392.06,162.69L390.46,163.98L388.81,165.22L387.13,166.40" stroke="#5a7dec" stroke-width="4.0" fill="none"/>
<path d="M388.11,165.72L386.41,166.88L384.67,167.99L382.89,169.05" stroke="#597eec" stroke-width="4.0" fill="none"/>
<path d="M383.93,168.44L382.14,169.47L380.32,170.44L378.47,171.36" stroke="#5784ed" stroke-width="4.0" fill="none"/>
<path d="M379.55,170.84L377.69,171.73L375.80,172.56L373.89,173.34" stroke="#558dee" stroke-width="4.0" fill="none"/>
<path d="M375.00,172.89L373.08,173.64L371.13,174.33L369.17,174.97" stroke="#539aef" stroke-width="4.0" fill="none"/>
<path d="M370.31,174.61L368.34,175.21L366.35,175.76L364.35,176.25" stroke="#52aaf0" stroke-width="4.0" fill="none"/>
<path d="M365.51,175.97L363.51,176.44L361.49,176.85L359.46,177.20" stroke="#51baf1" stroke-width="4.0" fill="none"/>
<path d="M360.64,177.00L358.61,177.33L356.57,177.60L354.53,177.82" stroke="#50caf2" stroke-width="4.0" fill="none"/>
<path d="M355.71,177.70L353.67,177.90L351.62,178.04L349.57,178.14" stroke="#50d5f3" stroke-width="4.0" fill="none"/>
<path d="M350.76,178.09L348.71,178.16L346.66,178.20L344.61,178.19" stroke="#50ddf4" stroke-width="4.0" fill="none"/>
<path d="M345.80,178.20L343.75,178.18L341.70,178.13L339.65,178.02" stroke="#50e1f4" stroke-width="4.0" fill="none"/>
<path d="M340.84,178.09L338.79,177.96L336.74,177.79L334.70,177.56" stroke="#50e2f3" stroke-width="4.0" fill="none"/>
<path d="M335.89,177.70L333.85,177.45L331.81,177.14L329.79,176.78" stroke="#50e3f3" stroke-width="4.0" fill="none"/>
<path d="M330.96,177.00L328.94,176.62L326.93,176.18L324.93,175.68" stroke="#50e4f2" stroke-width="4.0" fill="none"/>
<path d="M326.09,175.97L324.09,175.45L322.11,174.87L320.15,174.23" stroke="#50e5f2" stroke-width="4.0" fill="none"/>
<path d="M321.29,174.61L319.34,173.94L317.40,173.21L315.50,172.43" stroke="#50e6f1" stroke-width="4.0" fill="none"/>
<path d="M316.60,172.89L314.70,172.08L312.83,171.22L310.98,170.29" stroke="#50e7f1" stroke-width="4.0" fill="none"/>
<path d="M312.05,170.84L310.22,169.89L308.42,168.88L306.65,167.82" stroke="#50e8f0" stroke-width="4.0" fill="none"/>
<path d="M307.67,168.44L305.92,167.35L304.20,166.21L302.52,165.02" stroke="#50e9f0" stroke-width="4.0" fill="none"/>
<path d="M303.49,165.72L301.83,164.50L300.20,163.24L298.62,161.92" stroke="#50eaef" stroke-width="4.0" fill="none"/>
<path d="M299.54,162.69L297.97,161.35L296.46,159.97L294.98,158.54" stroke="#50ebef" stroke-width="4.0" fill="none"/>
<path d="M295.83,159.38L294.38,157.93L292.97,156.44L291.62,154.91" stroke="#50ecee" stroke-width="4.0" fill="none"/>
<path d="M292.40,155.80L291.06,154.25L289.78,152.67L288.54,151.04" stroke="#51ecee" stroke-width="4.0" fill="none"/>
<path d="M289.25,151.99L288.04,150.35L286.88,148.68L285.77,146.98" stroke="#52eded" stroke-width="4.0" fill="none"/>
<path d="M286.41,147.97L285.32,146.26L284.28,144.52L283.30,142.76" stroke="#53edec" stroke-width="4.0" fill="none"/>
<path d="M283.86,143.78L282.90,142.01L281.99,140.21L281.14,138.39" stroke="#54eeeb" stroke-width="4.0" fill="none"/>
<path d="M281.63,139.45L280.80,137.62L280.01,135.78L279.28,133.91" stroke="#55eeeb" stroke-width="4.0" fill="none"/>
<path d="M279.70,135.00L278.99,133.13L278.33,131.25L277.73,129.35" stroke="#56efea" stroke-width="4.0" fill="none"/>
<path d="M278.07,130.45L277.49,128.55L276.95,126.65L276.46,124.73" stroke="#57efe9" stroke-width="4.0" fill="none"/>
<path d="M276.74,125.84L276.27,123.92L275.85,122.00L275.48,120.06" stroke="#58f0e8" stroke-width="4.0" fill="none"/>
<path d="M275.69,121.19L275.33,119.25L275.02,117.32L274.76,115.38" stroke="#5af0e6" stroke-width="4.0" fill="none"/>
<path d="M274.90,116.50L274.66,114.56L274.45,112.62L274.29,110.67" stroke="#5ef0e3" stroke-width="4.0" fill="none"/>
<path d="M274.38,111.80L274.23,109.86L274.12,107.92L274.05,105.97" stroke="#62f0e0" stroke-width="4.0" fill="none"/>
<path d="M274.08,107.10L274.03,105.16L274.00,103.21L274.00,101.27" stroke="#66f0dd" stroke-width="4.0" fill="none"/>
<line x1="271.5" y1="102" x2="303.5" y2="102" stroke="#e8f03c" stroke-width="1.5"/>
<line x1="274" y1="84" x2="274" y2="112" stroke="#a8f078" stroke-width="1.6" opacity="0.8"/>
<rect x="267.6" y="79.6" width="13" height="36" rx="2.2" fill="none" stroke="#dc3c60" stroke-width="1.15"/>
<path d="M321.6,85.0 C323.1,72.8 334.9,66.5 348.8,66.5 C360.7,66.5 370.6,71.1 374.0,79.3 L376.3,80.8 L372.6,84.8 L366.6,80.1 L369.1,79.9 C365.6,73.6 357.7,68.9 348.8,68.5 C338.9,68.5 330.0,73.6 328.2,85.0 Z" fill="url(#arr)"/>
<rect x="225.3" y="27.5" width="8" height="149.2" fill="url(#cbar)"/>
<text x="237" y="29.86" font-size="4.6" fill="#3e466e" stroke="#3e466e" stroke-width="0.16" textLength="17.3" lengthAdjust="spacingAndGlyphs">4.00e+00</text>
<text x="237" y="37.32" font-size="4.6" fill="#414970" stroke="#414970" stroke-width="0.15" textLength="17.3" lengthAdjust="spacingAndGlyphs">3.80e+00</text>
<text x="237" y="44.78" font-size="4.6" fill="#434b72" stroke="#434b72" stroke-width="0.15" textLength="17.3" lengthAdjust="spacingAndGlyphs">3.60e+00</text>
<text x="237" y="52.24" font-size="4.6" fill="#464e73" stroke="#464e73" stroke-width="0.14" textLength="17.3" lengthAdjust="spacingAndGlyphs">3.40e+00</text>
<text x="237" y="59.70" font-size="4.6" fill="#485075" stroke="#485075" stroke-width="0.14" textLength="17.3" lengthAdjust="spacingAndGlyphs">3.20e+00</text>
<text x="237" y="67.16" font-size="4.6" fill="#4b5377" stroke="#4b5377" stroke-width="0.14" textLength="17.3" lengthAdjust="spacingAndGlyphs">3.00e+00</text>
<text x="237" y="74.62" font-size="4.6" fill="#4e5679" stroke="#4e5679" stroke-width="0.13" textLength="17.3" lengthAdjust="spacingAndGlyphs">2.80e+00</text>
<text x="237" y="82.08" font-size="4.6" fill="#50587b" stroke="#50587b" stroke-width="0.12" textLength="17.3" lengthAdjust="spacingAndGlyphs">2.60e+00</text>
<text x="237" y="89.54" font-size="4.6" fill="#535b7c" stroke="#535b7c" stroke-width="0.12" textLength="17.3" lengthAdjust="spacingAndGlyphs">2.40e+00</text>
<text x="237" y="97.00" font-size="4.6" fill="#555d7e" stroke="#555d7e" stroke-width="0.12" textLength="17.3" lengthAdjust="spacingAndGlyphs">2.20e+00</text>
<text x="237" y="104.46" font-size="4.6" fill="#586080" stroke="#586080" stroke-width="0.11" textLength="17.3" lengthAdjust="spacingAndGlyphs">2.00e+00</text>
<text x="237" y="111.92" font-size="4.6" fill="#5b6382" stroke="#5b6382" stroke-width="0.10" textLength="17.3" lengthAdjust="spacingAndGlyphs">1.80e+00</text>
<text x="237" y="119.38" font-size="4.6" fill="#5d6584" stroke="#5d6584" stroke-width="0.10" textLength="17.3" lengthAdjust="spacingAndGlyphs">1.60e+00</text>
<text x="237" y="126.84" font-size="4.6" fill="#606885" stroke="#606885" stroke-width="0.10" textLength="17.3" lengthAdjust="spacingAndGlyphs">1.40e+00</text>
<text x="237" y="134.30" font-size="4.6" fill="#626a87" stroke="#626a87" stroke-width="0.09" textLength="17.3" lengthAdjust="spacingAndGlyphs">1.20e+00</text>
<text x="237" y="141.76" font-size="4.6" fill="#656d89" stroke="#656d89" stroke-width="0.09" textLength="17.3" lengthAdjust="spacingAndGlyphs">1.00e+00</text>
<text x="237" y="149.22" font-size="4.6" fill="#68708b" stroke="#68708b" stroke-width="0.08" textLength="17.3" lengthAdjust="spacingAndGlyphs">8.00e-01</text>
<text x="237" y="156.68" font-size="4.6" fill="#6a728d" stroke="#6a728d" stroke-width="0.07" textLength="17.3" lengthAdjust="spacingAndGlyphs">6.00e-01</text>
<text x="237" y="164.14" font-size="4.6" fill="#6d758e" stroke="#6d758e" stroke-width="0.07" textLength="17.3" lengthAdjust="spacingAndGlyphs">4.00e-01</text>
<text x="237" y="171.60" font-size="4.6" fill="#6f7790" stroke="#6f7790" stroke-width="0.07" textLength="17.3" lengthAdjust="spacingAndGlyphs">2.00e-01</text>
<text x="237" y="179.06" font-size="4.6" fill="#727a92" stroke="#727a92" stroke-width="0.06" textLength="17.3" lengthAdjust="spacingAndGlyphs">0.00e+00</text>
<text x="222" y="11.2" font-size="4" fill="#34407c" stroke="#34407c" stroke-width="0.12" textLength="14" lengthAdjust="spacingAndGlyphs">contour-1</text>
<text x="222" y="15.5" font-size="4" fill="#34407c" stroke="#34407c" stroke-width="0.12" textLength="31" lengthAdjust="spacingAndGlyphs">Velocity Magnitude</text>
<text x="221.5" y="184.2" font-size="4.2" fill="#a0a070" textLength="11" lengthAdjust="spacingAndGlyphs">[m/s]</text>
</g>
<g filter="url(#b3)">
<text class="serif" x="228.5" y="29" font-size="19" fill="#0c1030" textLength="22.5" lengthAdjust="spacingAndGlyphs">(b)</text>
<text class="serif" x="260.3" y="104" font-size="8.3" fill="#2a2a48">1</text>
<text class="serif" x="341.6" y="19.1" font-size="7.6" fill="#2c3884">7</text>
<text class="serif" x="400.5" y="105" font-size="12" fill="#10101c" textLength="10.5" lengthAdjust="spacingAndGlyphs">13</text>
<text class="serif" x="339.8" y="189.0" font-size="9" fill="#44445a" textLength="8.4" lengthAdjust="spacingAndGlyphs">19</text>
</g></g>
<g clip-path="url(#cc)"><g filter="url(#b6)">
<rect x="421" y="6" width="233" height="185" fill="url(#bg)"/>
<circle cx="564.3" cy="99.5" r="49.2" fill="none" stroke="#78d4f0" stroke-width="1.6" opacity="0.55"/>
<circle cx="564.3" cy="99.5" r="49.2" fill="none" stroke="#4858b8" stroke-width="1.1" stroke-dasharray="4.5 4 1.5 4" opacity="0.5"/>
<line x1="517.9" y1="80.3" x2="489.1" y2="68.7" stroke="#70e8c8" stroke-width="1.5" opacity="0.7"/>
<line x1="524.1" y1="68.6" x2="499.1" y2="49.8" stroke="#4cd8cc" stroke-width="1.5" opacity="0.7"/>
<line x1="533.4" y1="59.1" x2="514.0" y2="34.5" stroke="#4cd8cc" stroke-width="1.5" opacity="0.7"/>
<line x1="544.9" y1="52.6" x2="532.6" y2="24.0" stroke="#4cd8cc" stroke-width="1.5" opacity="0.7"/>
<line x1="557.7" y1="49.4" x2="553.3" y2="18.9" stroke="#4cd8cc" stroke-width="1.5" opacity="0.9"/>
<line x1="570.7" y1="49.3" x2="574.4" y2="18.6" stroke="#4cd8cc" stroke-width="1.5" opacity="0.9"/>
<line x1="583.5" y1="52.1" x2="595.1" y2="23.3" stroke="#4cd8cc" stroke-width="1.5" opacity="0.9"/>
<line x1="595.2" y1="58.3" x2="614.0" y2="33.3" stroke="#54e0a0" stroke-width="1.5" opacity="0.9"/>
<line x1="604.7" y1="67.6" x2="629.3" y2="48.2" stroke="#5ce878" stroke-width="1.5" opacity="0.9"/>
<line x1="611.2" y1="79.1" x2="639.8" y2="66.8" stroke="#5ce878" stroke-width="1.5" opacity="0.9"/>
<line x1="614.4" y1="91.9" x2="644.9" y2="87.5" stroke="#5ce878" stroke-width="1.5" opacity="0.9"/>
<line x1="614.5" y1="104.9" x2="645.2" y2="108.6" stroke="#5ce878" stroke-width="1.5" opacity="0.9"/>
<line x1="611.7" y1="117.7" x2="640.5" y2="129.3" stroke="#5ce878" stroke-width="1.5" opacity="0.9"/>
<line x1="605.5" y1="129.4" x2="630.5" y2="148.2" stroke="#54e0a0" stroke-width="1.5" opacity="0.9"/>
<line x1="596.2" y1="138.9" x2="615.6" y2="163.5" stroke="#4cc4a8" stroke-width="1.5" opacity="0.85"/>
<line x1="584.7" y1="145.4" x2="597.0" y2="174.0" stroke="#4cc4a8" stroke-width="1.5" opacity="0.85"/>
<line x1="571.9" y1="148.6" x2="576.3" y2="179.1" stroke="#4cc4a8" stroke-width="1.5" opacity="0.85"/>
<line x1="558.9" y1="148.7" x2="555.2" y2="179.4" stroke="#4cc4a8" stroke-width="1.5" opacity="0.85"/>
<line x1="546.1" y1="145.9" x2="534.5" y2="174.7" stroke="#4cc4a8" stroke-width="1.5" opacity="0.85"/>
<line x1="534.4" y1="139.7" x2="515.6" y2="164.7" stroke="#4cc4a8" stroke-width="1.5" opacity="0.85"/>
<line x1="524.9" y1="130.4" x2="500.3" y2="149.8" stroke="#4cc4a8" stroke-width="1.5" opacity="0.85"/>
<line x1="518.4" y1="118.9" x2="489.8" y2="131.2" stroke="#4cc4a8" stroke-width="1.5" opacity="0.7"/>
<line x1="515.2" y1="106.1" x2="484.7" y2="110.5" stroke="#70e8c0" stroke-width="1.5" opacity="0.7"/>
<line x1="487" y1="92.6" x2="514.5" y2="92.8" stroke="#a8f068" stroke-width="1.6" opacity="0.9"/>
<path d="M484.64,89.30L484.88,87.09L485.18,84.89L485.53,82.70" stroke="#47eee3" stroke-width="4.21" fill="none"/>
<path d="M485.32,83.97L485.69,81.78L486.12,79.60L486.61,77.43" stroke="#46ede5" stroke-width="4.21" fill="none"/>
<path d="M486.32,78.69L486.83,76.52L487.40,74.37L488.03,72.23" stroke="#45ede7" stroke-width="4.22" fill="none"/>
<path d="M487.66,73.47L488.31,71.34L489.02,69.22L489.79,67.12" stroke="#44ece9" stroke-width="4.23" fill="none"/>
<path d="M489.34,68.34L490.13,66.25L490.99,64.18L491.90,62.14" stroke="#44ebeb" stroke-width="4.24" fill="none"/>
<path d="M491.36,63.32L492.30,61.29L493.30,59.28L494.35,57.30" stroke="#44eaec" stroke-width="4.25" fill="none"/>
<path d="M493.73,58.45L494.81,56.48L495.95,54.54L497.14,52.64" stroke="#44e8ee" stroke-width="4.26" fill="none"/>
<path d="M496.44,53.74L497.66,51.85L498.93,50.00L500.25,48.19" stroke="#44e7ef" stroke-width="4.26" fill="none"/>
<path d="M499.48,49.23L500.83,47.44L502.23,45.68L503.68,43.96" stroke="#44e5f0" stroke-width="4.27" fill="none"/>
<path d="M502.83,44.95L504.30,43.25L505.83,41.60L507.40,39.99" stroke="#44e5f0" stroke-width="4.28" fill="none"/>
<path d="M506.48,40.92L508.08,39.33L509.72,37.79L511.40,36.30" stroke="#44e4f0" stroke-width="4.29" fill="none"/>
<path d="M510.42,37.16L512.12,35.69L513.86,34.27L515.65,32.91" stroke="#44e3f1" stroke-width="4.3" fill="none"/>
<path d="M514.61,33.69L516.41,32.35L518.25,31.06L520.13,29.83" stroke="#44e2f1" stroke-width="4.31" fill="none"/>
<path d="M519.03,30.54L520.93,29.33L522.85,28.17L524.81,27.08" stroke="#44e1f1" stroke-width="4.31" fill="none"/>
<path d="M523.67,27.71L525.64,26.63L527.64,25.62L529.66,24.66" stroke="#44e0f1" stroke-width="4.32" fill="none"/>
<path d="M528.48,25.21L530.52,24.28L532.58,23.40L534.66,22.59" stroke="#44e0f1" stroke-width="4.33" fill="none"/>
<path d="M533.45,23.05L535.54,22.26L537.65,21.53L539.78,20.86" stroke="#44dff1" stroke-width="4.34" fill="none"/>
<path d="M538.54,21.24L540.68,20.60L542.83,20.01L544.99,19.48" stroke="#44def2" stroke-width="4.35" fill="none"/>
<path d="M543.73,19.78L545.90,19.27L548.08,18.82L550.27,18.43" stroke="#44ddf2" stroke-width="4.36" fill="none"/>
<path d="M548.99,18.65L551.19,18.28L553.38,17.97L555.59,17.72" stroke="#44dcf2" stroke-width="4.36" fill="none"/>
<path d="M554.31,17.86L556.51,17.62L558.72,17.44L560.93,17.31" stroke="#43daf2" stroke-width="4.37" fill="none"/>
<path d="M559.65,17.38L561.86,17.27L564.07,17.21L566.29,17.20" stroke="#42d6f3" stroke-width="4.38" fill="none"/>
<path d="M565.00,17.20L567.21,17.21L569.43,17.25L571.64,17.34" stroke="#41d2f3" stroke-width="4.39" fill="none"/>
<path d="M570.35,17.28L572.57,17.40L574.78,17.56L576.98,17.78" stroke="#40cef4" stroke-width="4.4" fill="none"/>
<path d="M575.70,17.64L577.91,17.88L580.11,18.18L582.30,18.53" stroke="#41c9f4" stroke-width="4.42" fill="none"/>
<path d="M581.03,18.32L583.22,18.69L585.40,19.12L587.57,19.61" stroke="#42c4f4" stroke-width="4.44" fill="none"/>
<path d="M586.31,19.32L588.48,19.83L590.63,20.40L592.77,21.03" stroke="#43bff4" stroke-width="4.47" fill="none"/>
<path d="M591.53,20.66L593.66,21.31L595.78,22.02L597.88,22.79" stroke="#44baf4" stroke-width="4.49" fill="none"/>
<path d="M596.66,22.34L598.75,23.13L600.82,23.99L602.86,24.90" stroke="#45b4f4" stroke-width="4.52" fill="none"/>
<path d="M601.68,24.36L603.71,25.30L605.72,26.30L607.70,27.35" stroke="#46adf3" stroke-width="4.54" fill="none"/>
<path d="M606.55,26.73L608.52,27.81L610.46,28.95L612.36,30.14" stroke="#47a6f3" stroke-width="4.57" fill="none"/>
<path d="M611.26,29.44L613.15,30.66L615.00,31.93L616.81,33.25" stroke="#489ff2" stroke-width="4.59" fill="none"/>
<path d="M615.77,32.48L617.56,33.83L619.32,35.23L621.04,36.68" stroke="#4798f1" stroke-width="4.62" fill="none"/>
<path d="M620.05,35.83L621.75,37.30L623.40,38.83L625.01,40.40" stroke="#4692f0" stroke-width="4.64" fill="none"/>
<path d="M624.08,39.48L625.67,41.08L627.21,42.72L628.70,44.40" stroke="#458cef" stroke-width="4.67" fill="none"/>
<path d="M627.84,43.42L629.31,45.12L630.73,46.86L632.09,48.65" stroke="#4486ee" stroke-width="4.69" fill="none"/>
<path d="M631.31,47.61L632.65,49.41L633.94,51.25L635.17,53.13" stroke="#4381ed" stroke-width="4.72" fill="none"/>
<path d="M634.46,52.03L635.67,53.93L636.83,55.85L637.92,57.81" stroke="#417bec" stroke-width="4.74" fill="none"/>
<path d="M637.29,56.67L638.37,58.64L639.38,60.64L640.34,62.66" stroke="#3f76eb" stroke-width="4.77" fill="none"/>
<path d="M639.79,61.48L640.72,63.52L641.60,65.58L642.41,67.66" stroke="#3d70ea" stroke-width="4.79" fill="none"/>
<path d="M641.95,66.45L642.74,68.54L643.47,70.65L644.14,72.78" stroke="#3b6cea" stroke-width="4.82" fill="none"/>
<path d="M643.76,71.54L644.40,73.68L644.99,75.83L645.52,77.99" stroke="#3a68e9" stroke-width="4.84" fill="none"/>
<path d="M645.22,76.73L645.73,78.90L646.18,81.08L646.57,83.27" stroke="#3865e9" stroke-width="4.87" fill="none"/>
<path d="M646.35,81.99L646.72,84.19L647.03,86.38L647.28,88.59" stroke="#3761e8" stroke-width="4.89" fill="none"/>
<path d="M647.14,87.31L647.38,89.51L647.56,91.72L647.69,93.93" stroke="#355ee8" stroke-width="4.92" fill="none"/>
<path d="M647.62,92.65L647.73,94.86L647.79,97.07L647.80,99.29" stroke="#345be7" stroke-width="4.94" fill="none"/>
<path d="M647.80,98.00L647.79,100.21L647.75,102.43L647.66,104.64" stroke="#3258e7" stroke-width="4.97" fill="none"/>
<path d="M647.72,103.35L647.60,105.57L647.44,107.78L647.22,109.98" stroke="#3155e6" stroke-width="4.99" fill="none"/>
<path d="M647.36,108.70L647.12,110.91L646.82,113.11L646.47,115.30" stroke="#3053e6" stroke-width="4.98" fill="none"/>
<path d="M646.68,114.03L646.31,116.22L645.88,118.40L645.39,120.57" stroke="#3052e5" stroke-width="4.96" fill="none"/>
<path d="M645.68,119.31L645.17,121.48L644.60,123.63L643.97,125.77" stroke="#3051e5" stroke-width="4.93" fill="none"/>
<path d="M644.34,124.53L643.69,126.66L642.98,128.78L642.21,130.88" stroke="#3050e4" stroke-width="4.91" fill="none"/>
<path d="M642.66,129.66L641.87,131.75L641.01,133.82L640.10,135.86" stroke="#3051e4" stroke-width="4.88" fill="none"/>
<path d="M640.64,134.68L639.70,136.71L638.70,138.72L637.65,140.70" stroke="#3152e4" stroke-width="4.86" fill="none"/>
<path d="M638.27,139.55L637.19,141.52L636.05,143.46L634.86,145.36" stroke="#3153e4" stroke-width="4.83" fill="none"/>
<path d="M635.56,144.26L634.34,146.15L633.07,148.00L631.75,149.81" stroke="#3254e4" stroke-width="4.81" fill="none"/>
<path d="M632.52,148.77L631.17,150.56L629.77,152.32L628.32,154.04" stroke="#3356e5" stroke-width="4.78" fill="none"/>
<path d="M629.17,153.05L627.70,154.75L626.17,156.40L624.60,158.01" stroke="#345ae6" stroke-width="4.76" fill="none"/>
<path d="M625.52,157.08L623.92,158.67L622.28,160.21L620.60,161.70" stroke="#355de7" stroke-width="4.73" fill="none"/>
<path d="M621.58,160.84L619.88,162.31L618.14,163.73L616.35,165.09" stroke="#3661e8" stroke-width="4.71" fill="none"/>
<path d="M617.39,164.31L615.59,165.65L613.75,166.94L611.87,168.17" stroke="#3766e9" stroke-width="4.69" fill="none"/>
<path d="M612.97,167.46L611.07,168.67L609.15,169.83L607.19,170.92" stroke="#386dea" stroke-width="4.67" fill="none"/>
<path d="M608.33,170.29L606.36,171.37L604.36,172.38L602.34,173.34" stroke="#3973ec" stroke-width="4.66" fill="none"/>
<path d="M603.52,172.79L601.48,173.72L599.42,174.60L597.34,175.41" stroke="#3a7aed" stroke-width="4.64" fill="none"/>
<path d="M598.55,174.95L596.46,175.74L594.35,176.47L592.22,177.14" stroke="#3b80ee" stroke-width="4.62" fill="none"/>
<path d="M593.46,176.76L591.32,177.40L589.17,177.99L587.01,178.52" stroke="#3c87ef" stroke-width="4.61" fill="none"/>
<path d="M588.27,178.22L586.10,178.73L583.92,179.18L581.73,179.57" stroke="#3d8def" stroke-width="4.59" fill="none"/>
<path d="M583.01,179.35L580.81,179.72L578.62,180.03L576.41,180.28" stroke="#3e94f0" stroke-width="4.57" fill="none"/>
<path d="M577.69,180.14L575.49,180.38L573.28,180.56L571.07,180.69" stroke="#3e99f0" stroke-width="4.56" fill="none"/>
<path d="M572.35,180.62L570.14,180.73L567.93,180.79L565.71,180.80" stroke="#3f9ef0" stroke-width="4.54" fill="none"/>
<path d="M567.00,180.80L564.79,180.79L562.57,180.75L560.36,180.66" stroke="#40a3f0" stroke-width="4.52" fill="none"/>
<path d="M561.65,180.72L559.43,180.60L557.22,180.44L555.02,180.22" stroke="#40b8f1" stroke-width="4.51" fill="none"/>
<path d="M556.30,180.36L554.09,180.12L551.89,179.82L549.70,179.47" stroke="#40d0f2" stroke-width="4.48" fill="none"/>
<path d="M550.97,179.68L548.78,179.31L546.60,178.88L544.43,178.39" stroke="#40d8f1" stroke-width="4.46" fill="none"/>
<path d="M545.69,178.68L543.52,178.17L541.37,177.60L539.23,176.97" stroke="#40ddf1" stroke-width="4.43" fill="none"/>
<path d="M540.47,177.34L538.34,176.69L536.22,175.98L534.12,175.21" stroke="#40e2f0" stroke-width="4.41" fill="none"/>
<path d="M535.34,175.66L533.25,174.87L531.18,174.01L529.14,173.10" stroke="#40e5f0" stroke-width="4.38" fill="none"/>
<path d="M530.32,173.64L528.29,172.70L526.28,171.70L524.30,170.65" stroke="#40e6ef" stroke-width="4.36" fill="none"/>
<path d="M525.45,171.27L523.48,170.19L521.54,169.05L519.64,167.86" stroke="#40e7ee" stroke-width="4.33" fill="none"/>
<path d="M520.74,168.56L518.85,167.34L517.00,166.07L515.19,164.75" stroke="#40e9ed" stroke-width="4.31" fill="none"/>
<path d="M516.23,165.52L514.44,164.17L512.68,162.77L510.96,161.32" stroke="#40eaed" stroke-width="4.28" fill="none"/>
<path d="M511.95,162.17L510.25,160.70L508.60,159.17L506.99,157.60" stroke="#40ebec" stroke-width="4.26" fill="none"/>
<path d="M507.92,158.52L506.33,156.92L504.79,155.28L503.30,153.60" stroke="#40eceb" stroke-width="4.23" fill="none"/>
<path d="M504.16,154.58L502.69,152.88L501.27,151.14L499.91,149.35" stroke="#40eeea" stroke-width="4.21" fill="none"/>
<path d="M500.69,150.39L499.35,148.59L498.06,146.75L496.83,144.87" stroke="#40eeea" stroke-width="4.2" fill="none"/>
<path d="M497.54,145.97L496.33,144.07L495.17,142.15L494.08,140.19" stroke="#41eee9" stroke-width="4.2" fill="none"/>
<path d="M494.71,141.33L493.63,139.36L492.62,137.36L491.66,135.34" stroke="#41efe9" stroke-width="4.2" fill="none"/>
<path d="M492.21,136.52L491.28,134.48L490.40,132.42L489.59,130.34" stroke="#42efe8" stroke-width="4.2" fill="none"/>
<path d="M490.05,131.55L489.26,129.46L488.53,127.35L487.86,125.22" stroke="#42efe8" stroke-width="4.2" fill="none"/>
<path d="M488.24,126.46L487.60,124.32L487.01,122.17L486.48,120.01" stroke="#43efe7" stroke-width="4.2" fill="none"/>
<path d="M486.78,121.27L486.27,119.10L485.82,116.92L485.43,114.73" stroke="#43f0e7" stroke-width="4.2" fill="none"/>
<path d="M485.65,116.01L485.28,113.81L484.97,111.62L484.72,109.41" stroke="#44f0e6" stroke-width="4.2" fill="none"/>
<path d="M484.86,110.69L484.62,108.49L484.44,106.28L484.31,104.07" stroke="#45f0e5" stroke-width="4.2" fill="none"/>
<path d="M484.38,105.35L484.27,103.14L484.21,100.93L484.20,98.71" stroke="#46efe4" stroke-width="4.2" fill="none"/>
<path d="M484.20,100.00L484.21,97.79L484.25,95.57L484.34,93.36" stroke="#47efe3" stroke-width="4.2" fill="none"/>
<path d="M484.28,94.65L484.40,92.43L484.56,90.22L484.78,88.02" stroke="#48eee2" stroke-width="4.2" fill="none"/>
<line x1="484.4" y1="84" x2="484.6" y2="101" stroke="#68f090" stroke-width="2.6" opacity="0.85"/>
<rect x="476.5" y="71" width="14" height="37.5" rx="2.4" fill="none" stroke="#dc4458" stroke-width="1.15"/>
<path d="M532.5,80.7 C534.2,68.0 547.6,61.4 563.3,61.4 C576.7,61.4 587.9,66.2 591.9,74.8 L594.4,76.3 L590.2,80.4 L583.5,75.6 L586.3,75.4 C582.3,68.8 573.4,63.9 563.3,63.4 C552.1,63.4 542.0,68.8 540.0,80.7 Z" fill="url(#arr)"/>
<rect x="429.6" y="30.3" width="8.4" height="145.6" fill="url(#cbar)"/>
<text x="441" y="31.70" font-size="5" fill="#3e466e" stroke="#3e466e" stroke-width="0.16" textLength="18.8" lengthAdjust="spacingAndGlyphs">4.00e+00</text>
<text x="441" y="39.03" font-size="5" fill="#414970" stroke="#414970" stroke-width="0.15" textLength="18.8" lengthAdjust="spacingAndGlyphs">3.80e+00</text>
<text x="441" y="46.36" font-size="5" fill="#434b72" stroke="#434b72" stroke-width="0.15" textLength="18.8" lengthAdjust="spacingAndGlyphs">3.60e+00</text>
<text x="441" y="53.69" font-size="5" fill="#464e73" stroke="#464e73" stroke-width="0.14" textLength="18.8" lengthAdjust="spacingAndGlyphs">3.40e+00</text>
<text x="441" y="61.02" font-size="5" fill="#485075" stroke="#485075" stroke-width="0.14" textLength="18.8" lengthAdjust="spacingAndGlyphs">3.20e+00</text>
<text x="441" y="68.35" font-size="5" fill="#4b5377" stroke="#4b5377" stroke-width="0.14" textLength="18.8" lengthAdjust="spacingAndGlyphs">3.00e+00</text>
<text x="441" y="75.68" font-size="5" fill="#4e5679" stroke="#4e5679" stroke-width="0.13" textLength="18.8" lengthAdjust="spacingAndGlyphs">2.80e+00</text>
<text x="441" y="83.01" font-size="5" fill="#50587b" stroke="#50587b" stroke-width="0.12" textLength="18.8" lengthAdjust="spacingAndGlyphs">2.60e+00</text>
<text x="441" y="90.34" font-size="5" fill="#535b7c" stroke="#535b7c" stroke-width="0.12" textLength="18.8" lengthAdjust="spacingAndGlyphs">2.40e+00</text>
<text x="441" y="97.67" font-size="5" fill="#555d7e" stroke="#555d7e" stroke-width="0.12" textLength="18.8" lengthAdjust="spacingAndGlyphs">2.20e+00</text>
<text x="441" y="105.00" font-size="5" fill="#586080" stroke="#586080" stroke-width="0.11" textLength="18.8" lengthAdjust="spacingAndGlyphs">2.00e+00</text>
<text x="441" y="112.33" font-size="5" fill="#5b6382" stroke="#5b6382" stroke-width="0.10" textLength="18.8" lengthAdjust="spacingAndGlyphs">1.80e+00</text>
<text x="441" y="119.66" font-size="5" fill="#5d6584" stroke="#5d6584" stroke-width="0.10" textLength="18.8" lengthAdjust="spacingAndGlyphs">1.60e+00</text>
<text x="441" y="126.99" font-size="5" fill="#606885" stroke="#606885" stroke-width="0.10" textLength="18.8" lengthAdjust="spacingAndGlyphs">1.40e+00</text>
<text x="441" y="134.32" font-size="5" fill="#626a87" stroke="#626a87" stroke-width="0.09" textLength="18.8" lengthAdjust="spacingAndGlyphs">1.20e+00</text>
<text x="441" y="141.65" font-size="5" fill="#656d89" stroke="#656d89" stroke-width="0.09" textLength="18.8" lengthAdjust="spacingAndGlyphs">1.00e+00</text>
<text x="441" y="148.98" font-size="5" fill="#68708b" stroke="#68708b" stroke-width="0.08" textLength="18.8" lengthAdjust="spacingAndGlyphs">8.00e-01</text>
<text x="441" y="156.31" font-size="5" fill="#6a728d" stroke="#6a728d" stroke-width="0.07" textLength="18.8" lengthAdjust="spacingAndGlyphs">6.00e-01</text>
<text x="441" y="163.64" font-size="5" fill="#6d758e" stroke="#6d758e" stroke-width="0.07" textLength="18.8" lengthAdjust="spacingAndGlyphs">4.00e-01</text>
<text x="441" y="170.97" font-size="5" fill="#6f7790" stroke="#6f7790" stroke-width="0.07" textLength="18.8" lengthAdjust="spacingAndGlyphs">2.00e-01</text>
<text x="441" y="178.30" font-size="5" fill="#727a92" stroke="#727a92" stroke-width="0.06" textLength="18.8" lengthAdjust="spacingAndGlyphs">0.00e+00</text>
<text x="425" y="13.5" font-size="4.6" fill="#34407c" stroke="#34407c" stroke-width="0.12" textLength="19" lengthAdjust="spacingAndGlyphs">contour-1</text>
<text x="425" y="19" font-size="4.6" fill="#34407c" stroke="#34407c" stroke-width="0.12" textLength="40" lengthAdjust="spacingAndGlyphs">Velocity Magnitude</text>
<text x="425" y="183.5" font-size="4.8" fill="#8a8a70" textLength="14" lengthAdjust="spacingAndGlyphs">[ m/s ]</text>
</g>
<g filter="url(#b3)">
<text class="serif" x="428.5" y="30" font-size="19" fill="#0c1030" textLength="21" lengthAdjust="spacingAndGlyphs">(c)</text>
<text class="serif" x="465" y="93" font-size="8.5" fill="#26263e">1</text>
<text class="serif" x="570.5" y="15" font-size="7.5" fill="#1a2050">7</text>
<text class="serif" x="622.5" y="115" font-size="11.5" fill="#10101c" textLength="10.5" lengthAdjust="spacingAndGlyphs">13</text>
<text class="serif" x="545.8" y="188.6" font-size="9.2" fill="#3c3c50" textLength="8.8" lengthAdjust="spacingAndGlyphs">19</text>
</g></g>
<g filter="url(#b3)">
<path d="M185.75,227.4V390.08000000000004H485.75" fill="none" stroke="#0a0a0a" stroke-width="1.15"/>
<line x1="185.75" x2="189.75" y1="390.08" y2="390.08" stroke="#0a0a0a" stroke-width="0.9"/>
<text x="182.0" y="392.98" font-size="8" text-anchor="end" fill="#111" stroke="#111" stroke-width="0.15">0.2</text>
<line x1="185.75" x2="187.95" y1="381.07" y2="381.07" stroke="#0a0a0a" stroke-width="0.9"/>
<line x1="185.75" x2="189.75" y1="372.06" y2="372.06" stroke="#0a0a0a" stroke-width="0.9"/>
<text x="182.0" y="374.96" font-size="8" text-anchor="end" fill="#111" stroke="#111" stroke-width="0.15">0.4</text>
<line x1="185.75" x2="187.95" y1="363.05" y2="363.05" stroke="#0a0a0a" stroke-width="0.9"/>
<line x1="185.75" x2="189.75" y1="354.04" y2="354.04" stroke="#0a0a0a" stroke-width="0.9"/>
<text x="182.0" y="356.94" font-size="8" text-anchor="end" fill="#111" stroke="#111" stroke-width="0.15">0.6</text>
<line x1="185.75" x2="187.95" y1="345.03" y2="345.03" stroke="#0a0a0a" stroke-width="0.9"/>
<line x1="185.75" x2="189.75" y1="336.02" y2="336.02" stroke="#0a0a0a" stroke-width="0.9"/>
<text x="182.0" y="338.92" font-size="8" text-anchor="end" fill="#111" stroke="#111" stroke-width="0.15">0.8</text>
<line x1="185.75" x2="187.95" y1="327.01" y2="327.01" stroke="#0a0a0a" stroke-width="0.9"/>
<line x1="185.75" x2="189.75" y1="318.00" y2="318.00" stroke="#0a0a0a" stroke-width="0.9"/>
<text x="182.0" y="320.90" font-size="8" text-anchor="end" fill="#111" stroke="#111" stroke-width="0.15">1.0</text>
<line x1="185.75" x2="187.95" y1="308.99" y2="308.99" stroke="#0a0a0a" stroke-width="0.9"/>
<line x1="185.75" x2="189.75" y1="299.98" y2="299.98" stroke="#0a0a0a" stroke-width="0.9"/>
<text x="182.0" y="302.88" font-size="8" text-anchor="end" fill="#111" stroke="#111" stroke-width="0.15">1.2</text>
<line x1="185.75" x2="187.95" y1="290.97" y2="290.97" stroke="#0a0a0a" stroke-width="0.9"/>
<line x1="185.75" x2="189.75" y1="281.96" y2="281.96" stroke="#0a0a0a" stroke-width="0.9"/>
<text x="182.0" y="284.86" font-size="8" text-anchor="end" fill="#111" stroke="#111" stroke-width="0.15">1.4</text>
<line x1="185.75" x2="187.95" y1="272.95" y2="272.95" stroke="#0a0a0a" stroke-width="0.9"/>
<line x1="185.75" x2="189.75" y1="263.94" y2="263.94" stroke="#0a0a0a" stroke-width="0.9"/>
<text x="182.0" y="266.84" font-size="8" text-anchor="end" fill="#111" stroke="#111" stroke-width="0.15">1.6</text>
<line x1="185.75" x2="187.95" y1="254.93" y2="254.93" stroke="#0a0a0a" stroke-width="0.9"/>
<line x1="185.75" x2="189.75" y1="245.92" y2="245.92" stroke="#0a0a0a" stroke-width="0.9"/>
<text x="182.0" y="248.82" font-size="8" text-anchor="end" fill="#111" stroke="#111" stroke-width="0.15">1.8</text>
<line x1="185.75" x2="187.95" y1="236.91" y2="236.91" stroke="#0a0a0a" stroke-width="0.9"/>
<line x1="185.75" x2="189.75" y1="227.90" y2="227.90" stroke="#0a0a0a" stroke-width="0.9"/>
<text x="182.0" y="230.80" font-size="8" text-anchor="end" fill="#111" stroke="#111" stroke-width="0.15">2.0</text>
<line y1="390.08000000000004" y2="386.48" x1="185.75" x2="185.75" stroke="#0a0a0a" stroke-width="0.9"/>
<text x="185.75" y="400.4" font-size="8" text-anchor="middle" fill="#222" stroke="#222" stroke-width="0.12">0</text>
<line y1="390.08000000000004" y2="388.08000000000004" x1="215.70" x2="215.70" stroke="#0a0a0a" stroke-width="0.9"/>
<line y1="390.08000000000004" y2="386.48" x1="245.65" x2="245.65" stroke="#0a0a0a" stroke-width="0.9"/>
<text x="245.65" y="400.4" font-size="8" text-anchor="middle" fill="#222" stroke="#222" stroke-width="0.12">5</text>
<line y1="390.08000000000004" y2="388.08000000000004" x1="275.60" x2="275.60" stroke="#0a0a0a" stroke-width="0.9"/>
<line y1="390.08000000000004" y2="386.48" x1="305.55" x2="305.55" stroke="#0a0a0a" stroke-width="0.9"/>
<text x="305.55" y="400.4" font-size="8" text-anchor="middle" fill="#222" stroke="#222" stroke-width="0.12">10</text>
<line y1="390.08000000000004" y2="388.08000000000004" x1="335.50" x2="335.50" stroke="#0a0a0a" stroke-width="0.9"/>
<line y1="390.08000000000004" y2="386.48" x1="365.45" x2="365.45" stroke="#0a0a0a" stroke-width="0.9"/>
<text x="365.45" y="400.4" font-size="8" text-anchor="middle" fill="#222" stroke="#222" stroke-width="0.12">15</text>
<line y1="390.08000000000004" y2="388.08000000000004" x1="395.40" x2="395.40" stroke="#0a0a0a" stroke-width="0.9"/>
<line y1="390.08000000000004" y2="386.48" x1="425.35" x2="425.35" stroke="#0a0a0a" stroke-width="0.9"/>
<text x="425.35" y="400.4" font-size="8" text-anchor="middle" fill="#222" stroke="#222" stroke-width="0.12">20</text>
<line y1="390.08000000000004" y2="388.08000000000004" x1="455.30" x2="455.30" stroke="#0a0a0a" stroke-width="0.9"/>
<line y1="390.08000000000004" y2="386.48" x1="485.25" x2="485.25" stroke="#0a0a0a" stroke-width="0.9"/>
<text x="485.25" y="400.4" font-size="8" text-anchor="middle" fill="#222" stroke="#222" stroke-width="0.12">25</text>
<text x="198.13" y="284.81" font-size="4.3" fill="#111" stroke="#111" stroke-width="0.1" opacity="0.95">1.38523</text>
<text x="210.11" y="291.66" font-size="4.3" fill="#111" stroke="#111" stroke-width="0.1" opacity="0.95">1.30921</text>
<text x="222.09" y="288.42" font-size="4.3" fill="#111" stroke="#111" stroke-width="0.1" opacity="0.95">1.34524</text>
<text x="234.07" y="291.57" font-size="4.3" fill="#111" stroke="#111" stroke-width="0.1" opacity="0.95">1.31051</text>
<text x="246.05" y="312.29" font-size="4.3" fill="#111" stroke="#111" stroke-width="0.1" opacity="0.95">1.0801</text>
<text x="258.03" y="321.30" font-size="4.3" fill="#111" stroke="#111" stroke-width="0.1" opacity="0.95">0.9858</text>
<text x="270.01" y="313.01" font-size="4.3" fill="#111" stroke="#111" stroke-width="0.1" opacity="0.95">1.07235</text>
<text x="281.99" y="327.43" font-size="4.3" fill="#111" stroke="#111" stroke-width="0.1" opacity="0.95">0.91875</text>
<text x="293.97" y="336.62" font-size="4.3" fill="#111" stroke="#111" stroke-width="0.1" opacity="0.95">0.81012</text>
<text x="305.95" y="350.94" font-size="4.3" fill="#111" stroke="#111" stroke-width="0.1" opacity="0.95">0.65512</text>
<text x="317.93" y="312.92" font-size="4.3" fill="#111" stroke="#111" stroke-width="0.1" opacity="0.95">1.07312</text>
<text x="329.91" y="323.19" font-size="4.3" fill="#111" stroke="#111" stroke-width="0.1" opacity="0.95">0.95876</text>
<text x="341.89" y="328.92" font-size="4.3" fill="#111" stroke="#111" stroke-width="0.1" opacity="0.95">0.8955</text>
<text x="353.87" y="322.20" font-size="4.3" fill="#111" stroke="#111" stroke-width="0.1" opacity="0.95">0.96993</text>
<text x="365.85" y="358.78" font-size="4.3" fill="#111" stroke="#111" stroke-width="0.1" opacity="0.95">0.56412</text>
<text x="377.83" y="347.97" font-size="4.3" fill="#111" stroke="#111" stroke-width="0.1" opacity="0.95">0.68376</text>
<text x="389.81" y="338.15" font-size="4.3" fill="#111" stroke="#111" stroke-width="0.1" opacity="0.95">0.79312</text>
<text x="401.79" y="327.61" font-size="4.3" fill="#111" stroke="#111" stroke-width="0.1" opacity="0.95">0.91197</text>
<text x="413.77" y="333.20" font-size="4.3" fill="#111" stroke="#111" stroke-width="0.1" opacity="0.95">0.84812</text>
<text x="425.75" y="322.65" font-size="4.3" fill="#111" stroke="#111" stroke-width="0.1" opacity="0.95">0.96276</text>
<text x="437.73" y="314.09" font-size="4.3" fill="#111" stroke="#111" stroke-width="0.1" opacity="0.95">1.0604</text>
<text x="449.71" y="304.72" font-size="4.3" fill="#111" stroke="#111" stroke-width="0.1" opacity="0.95">1.1694</text>
<text x="461.69" y="297.52" font-size="4.3" fill="#111" stroke="#111" stroke-width="0.1" opacity="0.95">1.24483</text>
<text x="473.67" y="281.12" font-size="4.3" fill="#111" stroke="#111" stroke-width="0.1" opacity="0.95">1.426</text>
<text x="198.13" y="278.86" font-size="4.3" fill="#f01010" stroke="#f01010" stroke-width="0.1" opacity="0.95">1.45102</text>
<text x="210.11" y="300.04" font-size="4.3" fill="#f01010" stroke="#f01010" stroke-width="0.1" opacity="0.95">1.21608</text>
<text x="222.09" y="294.99" font-size="4.3" fill="#f01010" stroke="#f01010" stroke-width="0.1" opacity="0.95">1.27214</text>
<text x="234.07" y="297.97" font-size="4.3" fill="#f01010" stroke="#f01010" stroke-width="0.1" opacity="0.95">1.23858</text>
<text x="246.05" y="312.56" font-size="4.3" fill="#f01010" stroke="#f01010" stroke-width="0.1" opacity="0.95">1.0771</text>
<text x="258.03" y="329.05" font-size="4.3" fill="#f01010" stroke="#f01010" stroke-width="0.1" opacity="0.95">0.89418</text>
<text x="270.01" y="323.55" font-size="4.3" fill="#f01010" stroke="#f01010" stroke-width="0.1" opacity="0.95">0.95484</text>
<text x="281.99" y="339.14" font-size="4.3" fill="#f01010" stroke="#f01010" stroke-width="0.1" opacity="0.95">0.78212</text>
<text x="293.97" y="354.28" font-size="4.3" fill="#f01010" stroke="#f01010" stroke-width="0.1" opacity="0.95">0.61425</text>
<text x="305.95" y="363.47" font-size="4.3" fill="#f01010" stroke="#f01010" stroke-width="0.1" opacity="0.95">0.5121s</text>
<text x="317.93" y="331.48" font-size="4.3" fill="#f01010" stroke="#f01010" stroke-width="0.1" opacity="0.95">0.87312</text>
<text x="329.91" y="341.21" font-size="4.3" fill="#f01010" stroke="#f01010" stroke-width="0.1" opacity="0.95">0.75876</text>
<text x="341.89" y="346.94" font-size="4.3" fill="#f01010" stroke="#f01010" stroke-width="0.1" opacity="0.95">0.6955</text>
<text x="353.87" y="340.22" font-size="4.3" fill="#f01010" stroke="#f01010" stroke-width="0.1" opacity="0.95">0.76993</text>
<text x="365.85" y="359.95" font-size="4.3" fill="#f01010" stroke="#f01010" stroke-width="0.1" opacity="0.95">0.55112</text>
<text x="377.83" y="351.40" font-size="4.3" fill="#f01010" stroke="#f01010" stroke-width="0.1" opacity="0.95">0.64652</text>
<text x="389.81" y="343.56" font-size="4.3" fill="#f01010" stroke="#f01010" stroke-width="0.1" opacity="0.95">0.73312</text>
<text x="401.79" y="335.27" font-size="4.3" fill="#f01010" stroke="#f01010" stroke-width="0.1" opacity="0.95">0.82512</text>
<text x="413.77" y="334.55" font-size="4.3" fill="#f01010" stroke="#f01010" stroke-width="0.1" opacity="0.95">0.83312</text>
<text x="425.75" y="332.74" font-size="4.3" fill="#f01010" stroke="#f01010" stroke-width="0.1" opacity="0.95">0.85312</text>
<text x="437.73" y="320.40" font-size="4.3" fill="#f01010" stroke="#f01010" stroke-width="0.1" opacity="0.95">0.99019</text>
<text x="449.71" y="308.51" font-size="4.3" fill="#f01010" stroke="#f01010" stroke-width="0.1" opacity="0.95">1.12457</text>
<text x="461.69" y="297.52" font-size="4.3" fill="#f01010" stroke="#f01010" stroke-width="0.1" opacity="0.95">1.24483</text>
<text x="473.67" y="294.00" font-size="4.3" fill="#f01010" stroke="#f01010" stroke-width="0.1" opacity="0.95">1.283</text>
<text x="198.13" y="272.74" font-size="4.3" fill="#1818f0" stroke="#1818f0" stroke-width="0.1" opacity="0.95">1.51887</text>
<text x="210.11" y="308.33" font-size="4.3" fill="#1818f0" stroke="#1818f0" stroke-width="0.1" opacity="0.95">1.12441</text>
<text x="222.09" y="282.74" font-size="4.3" fill="#1818f0" stroke="#1818f0" stroke-width="0.1" opacity="0.95">1.40782</text>
<text x="234.07" y="307.79" font-size="4.3" fill="#1818f0" stroke="#1818f0" stroke-width="0.1" opacity="0.95">1.1296</text>
<text x="246.05" y="326.26" font-size="4.3" fill="#1818f0" stroke="#1818f0" stroke-width="0.1" opacity="0.95">0.92578</text>
<text x="258.03" y="339.68" font-size="4.3" fill="#1818f0" stroke="#1818f0" stroke-width="0.1" opacity="0.95">0.77648</text>
<text x="270.01" y="330.94" font-size="4.3" fill="#1818f0" stroke="#1818f0" stroke-width="0.1" opacity="0.95">0.87312</text>
<text x="281.99" y="337.79" font-size="4.3" fill="#1818f0" stroke="#1818f0" stroke-width="0.1" opacity="0.95">0.79782</text>
<text x="293.97" y="354.28" font-size="4.3" fill="#1818f0" stroke="#1818f0" stroke-width="0.1" opacity="0.95">0.61425</text>
<text x="305.95" y="363.47" font-size="4.3" fill="#1818f0" stroke="#1818f0" stroke-width="0.1" opacity="0.95">0.5121s</text>
<text x="317.93" y="348.96" font-size="4.3" fill="#1818f0" stroke="#1818f0" stroke-width="0.1" opacity="0.95">0.67312</text>
<text x="329.91" y="359.23" font-size="4.3" fill="#1818f0" stroke="#1818f0" stroke-width="0.1" opacity="0.95">0.55876</text>
<text x="341.89" y="364.96" font-size="4.3" fill="#1818f0" stroke="#1818f0" stroke-width="0.1" opacity="0.95">0.49551</text>
<text x="353.87" y="357.97" font-size="4.3" fill="#1818f0" stroke="#1818f0" stroke-width="0.1" opacity="0.95">0.57312</text>
<text x="365.85" y="363.29" font-size="4.3" fill="#1818f0" stroke="#1818f0" stroke-width="0.1" opacity="0.95">0.51412</text>
<text x="377.83" y="359.95" font-size="4.3" fill="#1818f0" stroke="#1818f0" stroke-width="0.1" opacity="0.95">0.55138</text>
<text x="389.81" y="350.58" font-size="4.3" fill="#1818f0" stroke="#1818f0" stroke-width="0.1" opacity="0.95">0.65521</text>
<text x="401.79" y="339.77" font-size="4.3" fill="#1818f0" stroke="#1818f0" stroke-width="0.1" opacity="0.95">0.77512</text>
<text x="413.77" y="343.65" font-size="4.3" fill="#1818f0" stroke="#1818f0" stroke-width="0.1" opacity="0.95">0.73245</text>
<text x="425.75" y="334.55" font-size="4.3" fill="#1818f0" stroke="#1818f0" stroke-width="0.1" opacity="0.95">0.83521</text>
<text x="437.73" y="328.24" font-size="4.3" fill="#1818f0" stroke="#1818f0" stroke-width="0.1" opacity="0.95">0.90775</text>
<text x="449.71" y="324.91" font-size="4.3" fill="#1818f0" stroke="#1818f0" stroke-width="0.1" opacity="0.95">0.93221</text>
<text x="461.69" y="310.67" font-size="4.3" fill="#1818f0" stroke="#1818f0" stroke-width="0.1" opacity="0.95">1.09812</text>
<text x="473.67" y="308.60" font-size="4.3" fill="#1818f0" stroke="#1818f0" stroke-width="0.1" opacity="0.95">1.121</text>
<polyline points="197.73,283.31 209.71,290.16 221.69,286.92 233.67,290.07 245.65,310.79 257.63,319.80 269.61,311.51 281.59,325.93 293.57,335.12 305.55,349.44 317.53,311.42 329.51,321.69 341.49,327.42 353.47,320.70 365.45,357.28 377.43,346.47 389.41,336.65 401.39,326.11 413.37,331.70 425.35,321.15 437.33,312.59 449.31,303.22 461.29,296.02 473.27,279.62" fill="none" stroke="#000000" stroke-width="0.5"/>
<rect x="195.78" y="281.36" width="3.9" height="3.9" fill="#000000"/>
<rect x="207.76" y="288.21" width="3.9" height="3.9" fill="#000000"/>
<rect x="219.74" y="284.97" width="3.9" height="3.9" fill="#000000"/>
<rect x="231.72" y="288.12" width="3.9" height="3.9" fill="#000000"/>
<rect x="243.70" y="308.84" width="3.9" height="3.9" fill="#000000"/>
<rect x="255.68" y="317.85" width="3.9" height="3.9" fill="#000000"/>
<rect x="267.66" y="309.56" width="3.9" height="3.9" fill="#000000"/>
<rect x="279.64" y="323.98" width="3.9" height="3.9" fill="#000000"/>
<rect x="291.62" y="333.17" width="3.9" height="3.9" fill="#000000"/>
<rect x="303.60" y="347.49" width="3.9" height="3.9" fill="#000000"/>
<rect x="315.58" y="309.47" width="3.9" height="3.9" fill="#000000"/>
<rect x="327.56" y="319.74" width="3.9" height="3.9" fill="#000000"/>
<rect x="339.54" y="325.47" width="3.9" height="3.9" fill="#000000"/>
<rect x="351.52" y="318.75" width="3.9" height="3.9" fill="#000000"/>
<rect x="363.50" y="355.33" width="3.9" height="3.9" fill="#000000"/>
<rect x="375.48" y="344.52" width="3.9" height="3.9" fill="#000000"/>
<rect x="387.46" y="334.70" width="3.9" height="3.9" fill="#000000"/>
<rect x="399.44" y="324.16" width="3.9" height="3.9" fill="#000000"/>
<rect x="411.42" y="329.75" width="3.9" height="3.9" fill="#000000"/>
<rect x="423.40" y="319.20" width="3.9" height="3.9" fill="#000000"/>
<rect x="435.38" y="310.64" width="3.9" height="3.9" fill="#000000"/>
<rect x="447.36" y="301.27" width="3.9" height="3.9" fill="#000000"/>
<rect x="459.34" y="294.07" width="3.9" height="3.9" fill="#000000"/>
<rect x="471.32" y="277.67" width="3.9" height="3.9" fill="#000000"/>
<polyline points="197.73,277.36 209.71,298.54 221.69,293.49 233.67,296.47 245.65,311.06 257.63,327.55 269.61,322.05 281.59,337.64 293.57,352.78 305.55,361.97 317.53,329.98 329.51,339.71 341.49,345.44 353.47,338.72 365.45,358.45 377.43,349.90 389.41,342.06 401.39,333.77 413.37,333.05 425.35,331.24 437.33,318.90 449.31,307.01 461.29,296.02 473.27,292.50" fill="none" stroke="#ff0000" stroke-width="0.5"/>
<circle cx="197.73" cy="277.36" r="2.15" fill="#ff0000"/>
<circle cx="209.71" cy="298.54" r="2.15" fill="#ff0000"/>
<circle cx="221.69" cy="293.49" r="2.15" fill="#ff0000"/>
<circle cx="233.67" cy="296.47" r="2.15" fill="#ff0000"/>
<circle cx="245.65" cy="311.06" r="2.15" fill="#ff0000"/>
<circle cx="257.63" cy="327.55" r="2.15" fill="#ff0000"/>
<circle cx="269.61" cy="322.05" r="2.15" fill="#ff0000"/>
<circle cx="281.59" cy="337.64" r="2.15" fill="#ff0000"/>
<circle cx="293.57" cy="352.78" r="2.15" fill="#ff0000"/>
<circle cx="305.55" cy="361.97" r="2.15" fill="#ff0000"/>
<circle cx="317.53" cy="329.98" r="2.15" fill="#ff0000"/>
<circle cx="329.51" cy="339.71" r="2.15" fill="#ff0000"/>
<circle cx="341.49" cy="345.44" r="2.15" fill="#ff0000"/>
<circle cx="353.47" cy="338.72" r="2.15" fill="#ff0000"/>
<circle cx="365.45" cy="358.45" r="2.15" fill="#ff0000"/>
<circle cx="377.43" cy="349.90" r="2.15" fill="#ff0000"/>
<circle cx="389.41" cy="342.06" r="2.15" fill="#ff0000"/>
<circle cx="401.39" cy="333.77" r="2.15" fill="#ff0000"/>
<circle cx="413.37" cy="333.05" r="2.15" fill="#ff0000"/>
<circle cx="425.35" cy="331.24" r="2.15" fill="#ff0000"/>
<circle cx="437.33" cy="318.90" r="2.15" fill="#ff0000"/>
<circle cx="449.31" cy="307.01" r="2.15" fill="#ff0000"/>
<circle cx="461.29" cy="296.02" r="2.15" fill="#ff0000"/>
<circle cx="473.27" cy="292.50" r="2.15" fill="#ff0000"/>
<polyline points="197.73,271.24 209.71,306.83 221.69,281.24 233.67,306.29 245.65,324.76 257.63,338.18 269.61,329.44 281.59,336.29 293.57,352.78 305.55,361.97 317.53,347.46 329.51,357.73 341.49,363.46 353.47,356.47 365.45,361.79 377.43,358.45 389.41,349.08 401.39,338.27 413.37,342.15 425.35,333.05 437.33,326.74 449.31,323.41 461.29,309.17 473.27,307.10" fill="none" stroke="#0000ff" stroke-width="0.5"/>
<path d="M197.73,268.34L200.73,273.24H194.73Z" fill="#0000ff"/>
<path d="M209.71,303.93L212.71,308.83H206.71Z" fill="#0000ff"/>
<path d="M221.69,278.34L224.69,283.24H218.69Z" fill="#0000ff"/>
<path d="M233.67,303.39L236.67,308.29H230.67Z" fill="#0000ff"/>
<path d="M245.65,321.86L248.65,326.76H242.65Z" fill="#0000ff"/>
<path d="M257.63,335.28L260.63,340.18H254.63Z" fill="#0000ff"/>
<path d="M269.61,326.54L272.61,331.44H266.61Z" fill="#0000ff"/>
<path d="M281.59,333.39L284.59,338.29H278.59Z" fill="#0000ff"/>
<path d="M293.57,349.88L296.57,354.78H290.57Z" fill="#0000ff"/>
<path d="M305.55,359.07L308.55,363.97H302.55Z" fill="#0000ff"/>
<path d="M317.53,344.56L320.53,349.46H314.53Z" fill="#0000ff"/>
<path d="M329.51,354.83L332.51,359.73H326.51Z" fill="#0000ff"/>
<path d="M341.49,360.56L344.49,365.46H338.49Z" fill="#0000ff"/>
<path d="M353.47,353.57L356.47,358.47H350.47Z" fill="#0000ff"/>
<path d="M365.45,358.89L368.45,363.79H362.45Z" fill="#0000ff"/>
<path d="M377.43,355.55L380.43,360.45H374.43Z" fill="#0000ff"/>
<path d="M389.41,346.18L392.41,351.08H386.41Z" fill="#0000ff"/>
<path d="M401.39,335.37L404.39,340.27H398.39Z" fill="#0000ff"/>
<path d="M413.37,339.25L416.37,344.15H410.37Z" fill="#0000ff"/>
<path d="M425.35,330.15L428.35,335.05H422.35Z" fill="#0000ff"/>
<path d="M437.33,323.84L440.33,328.74H434.33Z" fill="#0000ff"/>
<path d="M449.31,320.51L452.31,325.41H446.31Z" fill="#0000ff"/>
<path d="M461.29,306.27L464.29,311.17H458.29Z" fill="#0000ff"/>
<path d="M473.27,304.20L476.27,309.10H470.27Z" fill="#0000ff"/>
<rect x="390.5" y="234.5" width="85" height="22.8" fill="#fff" stroke="#606060" stroke-width="0.65"/>
<line x1="395.2" x2="407.7" y1="240.3" y2="240.3" stroke="#000" stroke-width="0.7"/>
<rect x="399.59999999999997" y="238.5" width="3.6" height="3.6" fill="#000"/>
<text x="409" y="242.20" font-size="5.4" fill="#111" stroke="#111" stroke-width="0.1">90</text>
<text class="cjk" x="415.0" y="242.3" font-size="5.6" fill="#111">度进口外环速度</text>
<text class="cjk" x="452.6" y="242.3" font-size="5.6" fill="#111">（</text>
<text x="458.3" y="242.10" font-size="5.2" fill="#111" stroke="#111" stroke-width="0.1">m/s</text>
<text class="cjk" x="466.9" y="242.3" font-size="5.6" fill="#111">）</text>
<line x1="395.2" x2="407.7" y1="246.85000000000002" y2="246.85000000000002" stroke="#f00" stroke-width="0.7"/>
<circle cx="401.4" cy="246.85000000000002" r="2" fill="#f00"/>
<text x="409" y="248.75" font-size="5.4" fill="#111" stroke="#111" stroke-width="0.1">60</text>
<text class="cjk" x="415.0" y="248.85" font-size="5.6" fill="#111">度进口外环速度</text>
<text class="cjk" x="452.6" y="248.85" font-size="5.6" fill="#111">（</text>
<text x="458.3" y="248.65" font-size="5.2" fill="#111" stroke="#111" stroke-width="0.1">m/s</text>
<text class="cjk" x="466.9" y="248.85" font-size="5.6" fill="#111">）</text>
<line x1="395.2" x2="407.7" y1="253.4" y2="253.4" stroke="#00f" stroke-width="0.7"/>
<path d="M401.4,250.9L404.0,255.20000000000002H398.79999999999995Z" fill="#00f"/>
<text x="409" y="255.30" font-size="5.4" fill="#111" stroke="#111" stroke-width="0.1">30</text>
<text class="cjk" x="415.0" y="255.4" font-size="5.6" fill="#111">度进口外环速度</text>
<text class="cjk" x="452.6" y="255.4" font-size="5.6" fill="#111">（</text>
<text x="458.3" y="255.20" font-size="5.2" fill="#111" stroke="#111" stroke-width="0.1">m/s</text>
<text class="cjk" x="466.9" y="255.4" font-size="5.6" fill="#111">）</text>
<text class="cjkserif" x="326.2" y="415.9" font-size="9.2" fill="#484848">位置</text>
<text class="cjkserif" transform="translate(155.8,352.5) rotate(-90)" x="0" y="8.0" font-size="9.1" letter-spacing="-0.2" fill="#505050">外环速度</text>
<text class="cjkserif" transform="translate(156.0,314.9) rotate(-90)" x="0" y="7.8" font-size="8.9" fill="#4a4a4a">（</text>
<text transform="translate(163.3,304.0) rotate(-90)" font-size="7.7" font-weight="bold" fill="#333">m/s</text>
<text class="cjkserif" transform="translate(156.0,287.0) rotate(-90)" x="0" y="7.8" font-size="8.9" fill="#4a4a4a">）</text>
</g>
</svg></body></html>
